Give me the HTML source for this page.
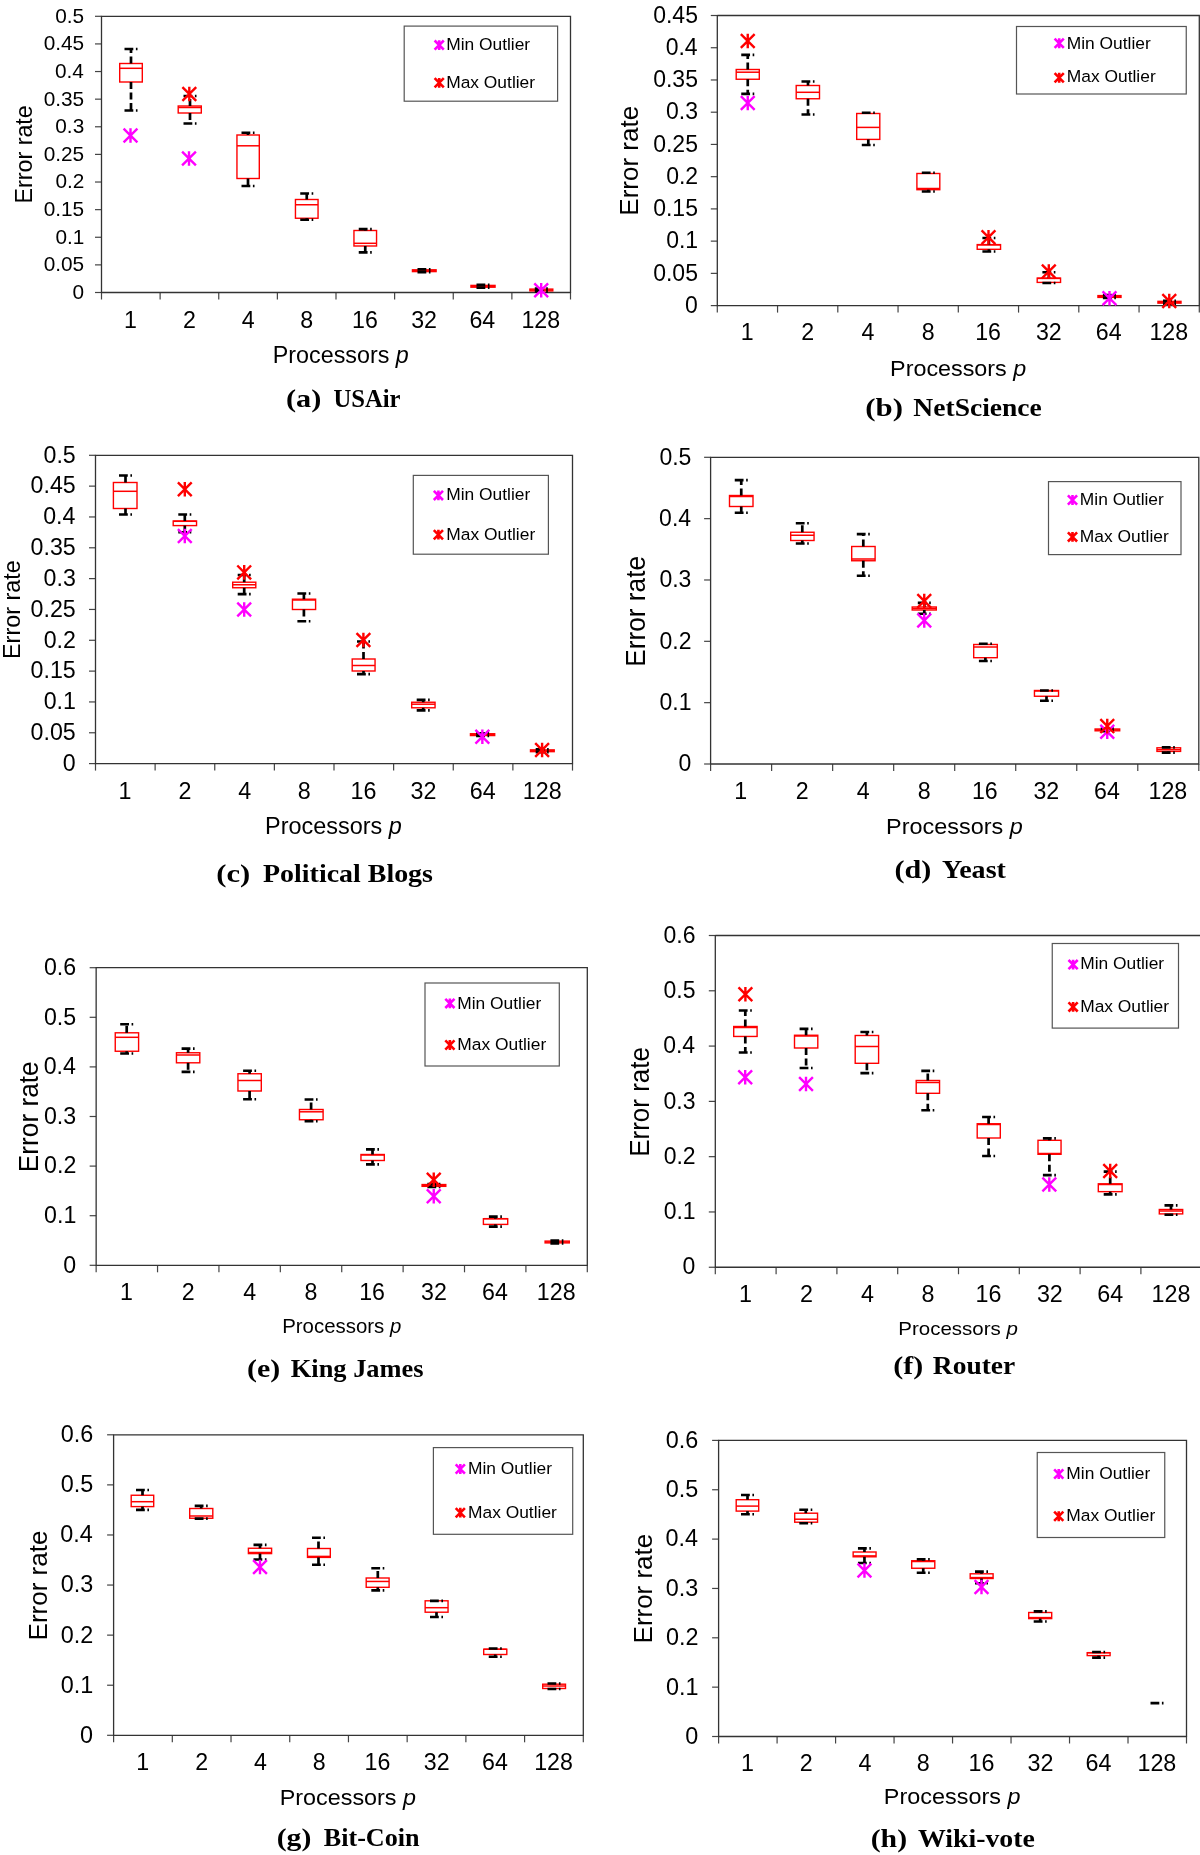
<!DOCTYPE html><html><head><meta charset="utf-8"><style>html,body{margin:0;padding:0;background:#fff;}svg{display:block;will-change:transform;}</style></head><body>
<svg width="1200" height="1855" viewBox="0 0 1200 1855" font-family='"Liberation Sans", sans-serif'>
<rect width="1200" height="1855" fill="#fff"/>
<line x1="95" y1="292.5" x2="101.5" y2="292.5" stroke="#444" stroke-width="1.2"/>
<text x="72.54" y="298.96" font-family='"Liberation Sans", sans-serif' font-size="20.8" fill="#000">0</text>
<line x1="95" y1="264.88" x2="101.5" y2="264.88" stroke="#444" stroke-width="1.2"/>
<text x="43.69" y="271.34" font-family='"Liberation Sans", sans-serif' font-size="20.8" fill="#000">0.05</text>
<line x1="95" y1="237.26" x2="101.5" y2="237.26" stroke="#444" stroke-width="1.2"/>
<text x="55.4" y="243.72" font-family='"Liberation Sans", sans-serif' font-size="20.8" fill="#000">0.1</text>
<line x1="95" y1="209.64" x2="101.5" y2="209.64" stroke="#444" stroke-width="1.2"/>
<text x="43.69" y="216.1" font-family='"Liberation Sans", sans-serif' font-size="20.8" fill="#000">0.15</text>
<line x1="95" y1="182.02" x2="101.5" y2="182.02" stroke="#444" stroke-width="1.2"/>
<text x="55.43" y="188.48" font-family='"Liberation Sans", sans-serif' font-size="20.8" fill="#000">0.2</text>
<line x1="95" y1="154.4" x2="101.5" y2="154.4" stroke="#444" stroke-width="1.2"/>
<text x="43.69" y="160.86" font-family='"Liberation Sans", sans-serif' font-size="20.8" fill="#000">0.25</text>
<line x1="95" y1="126.78" x2="101.5" y2="126.78" stroke="#444" stroke-width="1.2"/>
<text x="55.3" y="133.24" font-family='"Liberation Sans", sans-serif' font-size="20.8" fill="#000">0.3</text>
<line x1="95" y1="99.16" x2="101.5" y2="99.16" stroke="#444" stroke-width="1.2"/>
<text x="43.69" y="105.62" font-family='"Liberation Sans", sans-serif' font-size="20.8" fill="#000">0.35</text>
<line x1="95" y1="71.54" x2="101.5" y2="71.54" stroke="#444" stroke-width="1.2"/>
<text x="54.99" y="78" font-family='"Liberation Sans", sans-serif' font-size="20.8" fill="#000">0.4</text>
<line x1="95" y1="43.92" x2="101.5" y2="43.92" stroke="#444" stroke-width="1.2"/>
<text x="43.69" y="50.38" font-family='"Liberation Sans", sans-serif' font-size="20.8" fill="#000">0.45</text>
<line x1="95" y1="16.3" x2="101.5" y2="16.3" stroke="#444" stroke-width="1.2"/>
<text x="55.26" y="22.76" font-family='"Liberation Sans", sans-serif' font-size="20.8" fill="#000">0.5</text>
<line x1="101.5" y1="292.5" x2="101.5" y2="299.5" stroke="#444" stroke-width="1.2"/>
<line x1="160.12" y1="292.5" x2="160.12" y2="299.5" stroke="#444" stroke-width="1.2"/>
<line x1="218.75" y1="292.5" x2="218.75" y2="299.5" stroke="#444" stroke-width="1.2"/>
<line x1="277.38" y1="292.5" x2="277.38" y2="299.5" stroke="#444" stroke-width="1.2"/>
<line x1="336" y1="292.5" x2="336" y2="299.5" stroke="#444" stroke-width="1.2"/>
<line x1="394.62" y1="292.5" x2="394.62" y2="299.5" stroke="#444" stroke-width="1.2"/>
<line x1="453.25" y1="292.5" x2="453.25" y2="299.5" stroke="#444" stroke-width="1.2"/>
<line x1="511.88" y1="292.5" x2="511.88" y2="299.5" stroke="#444" stroke-width="1.2"/>
<line x1="570.5" y1="292.5" x2="570.5" y2="299.5" stroke="#444" stroke-width="1.2"/>
<text x="124.04" y="327.75" font-family='"Liberation Sans", sans-serif' font-size="23.2">1</text>
<text x="182.99" y="327.75" font-family='"Liberation Sans", sans-serif' font-size="23.2">2</text>
<text x="241.68" y="327.75" font-family='"Liberation Sans", sans-serif' font-size="23.2">4</text>
<text x="300.24" y="327.75" font-family='"Liberation Sans", sans-serif' font-size="23.2">8</text>
<text x="352.04" y="327.75" font-family='"Liberation Sans", sans-serif' font-size="23.2">16</text>
<text x="411.18" y="327.75" font-family='"Liberation Sans", sans-serif' font-size="23.2">32</text>
<text x="469.41" y="327.75" font-family='"Liberation Sans", sans-serif' font-size="23.2">64</text>
<text x="521.45" y="327.75" font-family='"Liberation Sans", sans-serif' font-size="23.2">128</text>
<path d="M101.5 16.3H571.1M101.5 15.7V293.1M101.5 292.5H571.1M570.5 15.7V293.1" stroke="#333" stroke-width="1.3" fill="none"/>
<g transform="translate(31.7 201.7) rotate(-90)"><text x="-1.91" y="0" font-family='"Liberation Sans", sans-serif' font-size="23.7" textLength="98.4" lengthAdjust="spacingAndGlyphs">Error rate</text></g>
<text x="272.79" y="362.7" font-family='"Liberation Sans", sans-serif' font-size="23"><tspan textLength="123" lengthAdjust="spacingAndGlyphs">Processors&#160;</tspan><tspan font-style="italic" textLength="12.96" lengthAdjust="spacingAndGlyphs">p</tspan></text>
<text x="285.97" y="407.3" font-family='"Liberation Serif", serif' font-weight="bold" font-style="normal" font-size="25" textLength="35.37" lengthAdjust="spacingAndGlyphs">(a)</text>
<text x="333.39" y="407.3" font-family='"Liberation Serif", serif' font-weight="bold" font-style="normal" font-size="25" textLength="67.14" lengthAdjust="spacingAndGlyphs">USAir</text>
<rect x="404.2" y="26.1" width="153.4" height="75.1" fill="#fff" stroke="#555" stroke-width="1.2"/>
<path d="M434.6 40.5L443.8 49.7M434.6 49.7L443.8 40.5M439.2 40.2V50" stroke="#ff00ff" stroke-width="2.6" fill="none"/>
<path d="M434.6 78.2L443.8 87.4M434.6 87.4L443.8 78.2M439.2 77.9V87.7" stroke="#ff0000" stroke-width="2.6" fill="none"/>
<text x="446.17" y="50.2" font-family='"Liberation Sans", sans-serif' font-weight="normal" font-style="normal" font-size="16.8" textLength="84.01" lengthAdjust="spacingAndGlyphs">Min Outlier</text>
<text x="446.17" y="87.8" font-family='"Liberation Sans", sans-serif' font-weight="normal" font-style="normal" font-size="16.8" textLength="88.92" lengthAdjust="spacingAndGlyphs">Max Outlier</text>
<rect x="119.7" y="63.5" width="22.6" height="18.5" fill="none" stroke="#ff0000" stroke-width="1.4"/>
<line x1="119.7" y1="68.3" x2="142.3" y2="68.3" stroke="#ff0000" stroke-width="1.5"/>
<line x1="131" y1="63.5" x2="131" y2="49" stroke="#000" stroke-width="2.7" stroke-dasharray="7 3.5"/>
<line x1="131" y1="82" x2="131" y2="110.5" stroke="#000" stroke-width="2.7" stroke-dasharray="7 3.5"/>
<line x1="124.5" y1="49" x2="137.5" y2="49" stroke="#000" stroke-width="2.7" stroke-dasharray="8.8 2.6 2.2 10"/>
<line x1="124.5" y1="110.5" x2="137.5" y2="110.5" stroke="#000" stroke-width="2.7" stroke-dasharray="8.8 2.6 2.2 10"/>
<rect x="178.2" y="106" width="23.1" height="7" fill="none" stroke="#ff0000" stroke-width="1.4"/>
<line x1="178.2" y1="107.5" x2="201.3" y2="107.5" stroke="#ff0000" stroke-width="1.5"/>
<line x1="190" y1="106" x2="190" y2="96" stroke="#000" stroke-width="2.7" stroke-dasharray="7 3.5"/>
<line x1="190" y1="113" x2="190" y2="123.5" stroke="#000" stroke-width="2.7" stroke-dasharray="7 3.5"/>
<line x1="183.5" y1="96" x2="196.5" y2="96" stroke="#000" stroke-width="2.7" stroke-dasharray="8.8 2.6 2.2 10"/>
<line x1="183.5" y1="123.5" x2="196.5" y2="123.5" stroke="#000" stroke-width="2.7" stroke-dasharray="8.8 2.6 2.2 10"/>
<rect x="236.95" y="135" width="22.35" height="43.5" fill="none" stroke="#ff0000" stroke-width="1.4"/>
<line x1="236.95" y1="145.8" x2="259.3" y2="145.8" stroke="#ff0000" stroke-width="1.5"/>
<line x1="248" y1="135" x2="248" y2="132.75" stroke="#000" stroke-width="2.7" stroke-dasharray="7 3.5"/>
<line x1="248" y1="178.5" x2="248" y2="186" stroke="#000" stroke-width="2.7" stroke-dasharray="7 3.5"/>
<line x1="241.5" y1="132.75" x2="254.5" y2="132.75" stroke="#000" stroke-width="2.7" stroke-dasharray="8.8 2.6 2.2 10"/>
<line x1="241.5" y1="186" x2="254.5" y2="186" stroke="#000" stroke-width="2.7" stroke-dasharray="8.8 2.6 2.2 10"/>
<rect x="295.45" y="199.5" width="22.6" height="18.75" fill="none" stroke="#ff0000" stroke-width="1.4"/>
<line x1="295.45" y1="204.75" x2="318.05" y2="204.75" stroke="#ff0000" stroke-width="1.5"/>
<line x1="306.75" y1="199.5" x2="306.75" y2="193.5" stroke="#000" stroke-width="2.7" stroke-dasharray="7 3.5"/>
<line x1="306.75" y1="218.25" x2="306.75" y2="219.75" stroke="#000" stroke-width="2.7" stroke-dasharray="7 3.5"/>
<line x1="300.25" y1="193.5" x2="313.25" y2="193.5" stroke="#000" stroke-width="2.7" stroke-dasharray="8.8 2.6 2.2 10"/>
<line x1="300.25" y1="219.75" x2="313.25" y2="219.75" stroke="#000" stroke-width="2.7" stroke-dasharray="8.8 2.6 2.2 10"/>
<rect x="353.95" y="230.5" width="22.6" height="15.5" fill="none" stroke="#ff0000" stroke-width="1.4"/>
<line x1="353.95" y1="243.3" x2="376.55" y2="243.3" stroke="#ff0000" stroke-width="1.5"/>
<line x1="365.25" y1="230.5" x2="365.25" y2="229.2" stroke="#000" stroke-width="2.7" stroke-dasharray="7 3.5"/>
<line x1="365.25" y1="246" x2="365.25" y2="252.3" stroke="#000" stroke-width="2.7" stroke-dasharray="7 3.5"/>
<line x1="358.75" y1="229.2" x2="371.75" y2="229.2" stroke="#000" stroke-width="2.7" stroke-dasharray="8.8 2.6 2.2 10"/>
<line x1="358.75" y1="252.3" x2="371.75" y2="252.3" stroke="#000" stroke-width="2.7" stroke-dasharray="8.8 2.6 2.2 10"/>
<rect x="412.45" y="269.8" width="23.65" height="1.8" fill="none" stroke="#ff0000" stroke-width="1.4"/>
<line x1="412.45" y1="270.7" x2="436.1" y2="270.7" stroke="#ff0000" stroke-width="1.5"/>
<line x1="417.5" y1="269.35" x2="430.5" y2="269.35" stroke="#000" stroke-width="2.7" stroke-dasharray="8.8 2.6 2.2 10"/>
<line x1="417.5" y1="272.05" x2="430.5" y2="272.05" stroke="#000" stroke-width="2.7" stroke-dasharray="8.8 2.6 2.2 10"/>
<rect x="470.95" y="285.4" width="24.1" height="1.8" fill="none" stroke="#ff0000" stroke-width="1.4"/>
<line x1="470.95" y1="286.3" x2="495.05" y2="286.3" stroke="#ff0000" stroke-width="1.5"/>
<line x1="476.5" y1="284.95" x2="489.5" y2="284.95" stroke="#000" stroke-width="2.7" stroke-dasharray="8.8 2.6 2.2 10"/>
<line x1="476.5" y1="287.65" x2="489.5" y2="287.65" stroke="#000" stroke-width="2.7" stroke-dasharray="8.8 2.6 2.2 10"/>
<rect x="529.9" y="289.1" width="22.9" height="1.8" fill="none" stroke="#ff0000" stroke-width="1.4"/>
<line x1="529.9" y1="290" x2="552.8" y2="290" stroke="#ff0000" stroke-width="1.5"/>
<line x1="534.8" y1="288.65" x2="547.8" y2="288.65" stroke="#000" stroke-width="2.7" stroke-dasharray="8.8 2.6 2.2 10"/>
<line x1="534.8" y1="291.35" x2="547.8" y2="291.35" stroke="#000" stroke-width="2.7" stroke-dasharray="8.8 2.6 2.2 10"/>
<path d="M130.5 128.2V142.8M123.6 128.6L137.4 142.4M123.6 142.4L137.4 128.6" stroke="#ff00ff" stroke-width="2.4" fill="none"/>
<path d="M189.3 86.7V101.3M182.4 87.1L196.2 100.9M182.4 100.9L196.2 87.1" stroke="#ff0000" stroke-width="2.4" fill="none"/>
<path d="M189 151.2V165.8M182.1 151.6L195.9 165.4M182.1 165.4L195.9 151.6" stroke="#ff00ff" stroke-width="2.4" fill="none"/>
<path d="M541.2 282.9V297.5M534.3 283.3L548.1 297.1M534.3 297.1L548.1 283.3" stroke="#ff00ff" stroke-width="2.4" fill="none"/>
<line x1="710.8" y1="305.6" x2="717.3" y2="305.6" stroke="#444" stroke-width="1.2"/>
<text x="685.11" y="312.84" font-family='"Liberation Sans", sans-serif' font-size="23" fill="#000">0</text>
<line x1="710.8" y1="273.37" x2="717.3" y2="273.37" stroke="#444" stroke-width="1.2"/>
<text x="653.2" y="280.61" font-family='"Liberation Sans", sans-serif' font-size="23" fill="#000">0.05</text>
<line x1="710.8" y1="241.13" x2="717.3" y2="241.13" stroke="#444" stroke-width="1.2"/>
<text x="666.15" y="248.38" font-family='"Liberation Sans", sans-serif' font-size="23" fill="#000">0.1</text>
<line x1="710.8" y1="208.9" x2="717.3" y2="208.9" stroke="#444" stroke-width="1.2"/>
<text x="653.2" y="216.14" font-family='"Liberation Sans", sans-serif' font-size="23" fill="#000">0.15</text>
<line x1="710.8" y1="176.67" x2="717.3" y2="176.67" stroke="#444" stroke-width="1.2"/>
<text x="666.18" y="183.91" font-family='"Liberation Sans", sans-serif' font-size="23" fill="#000">0.2</text>
<line x1="710.8" y1="144.43" x2="717.3" y2="144.43" stroke="#444" stroke-width="1.2"/>
<text x="653.2" y="151.68" font-family='"Liberation Sans", sans-serif' font-size="23" fill="#000">0.25</text>
<line x1="710.8" y1="112.2" x2="717.3" y2="112.2" stroke="#444" stroke-width="1.2"/>
<text x="666.04" y="119.44" font-family='"Liberation Sans", sans-serif' font-size="23" fill="#000">0.3</text>
<line x1="710.8" y1="79.97" x2="717.3" y2="79.97" stroke="#444" stroke-width="1.2"/>
<text x="653.2" y="87.21" font-family='"Liberation Sans", sans-serif' font-size="23" fill="#000">0.35</text>
<line x1="710.8" y1="47.73" x2="717.3" y2="47.73" stroke="#444" stroke-width="1.2"/>
<text x="665.7" y="54.98" font-family='"Liberation Sans", sans-serif' font-size="23" fill="#000">0.4</text>
<line x1="710.8" y1="15.5" x2="717.3" y2="15.5" stroke="#444" stroke-width="1.2"/>
<text x="653.2" y="22.74" font-family='"Liberation Sans", sans-serif' font-size="23" fill="#000">0.45</text>
<line x1="717.3" y1="305.6" x2="717.3" y2="312.6" stroke="#444" stroke-width="1.2"/>
<line x1="777.55" y1="305.6" x2="777.55" y2="312.6" stroke="#444" stroke-width="1.2"/>
<line x1="837.8" y1="305.6" x2="837.8" y2="312.6" stroke="#444" stroke-width="1.2"/>
<line x1="898.05" y1="305.6" x2="898.05" y2="312.6" stroke="#444" stroke-width="1.2"/>
<line x1="958.3" y1="305.6" x2="958.3" y2="312.6" stroke="#444" stroke-width="1.2"/>
<line x1="1018.55" y1="305.6" x2="1018.55" y2="312.6" stroke="#444" stroke-width="1.2"/>
<line x1="1078.8" y1="305.6" x2="1078.8" y2="312.6" stroke="#444" stroke-width="1.2"/>
<line x1="1139.05" y1="305.6" x2="1139.05" y2="312.6" stroke="#444" stroke-width="1.2"/>
<line x1="1199.3" y1="305.6" x2="1199.3" y2="312.6" stroke="#444" stroke-width="1.2"/>
<text x="740.66" y="340.4" font-family='"Liberation Sans", sans-serif' font-size="23.2">1</text>
<text x="801.22" y="340.4" font-family='"Liberation Sans", sans-serif' font-size="23.2">2</text>
<text x="861.55" y="340.4" font-family='"Liberation Sans", sans-serif' font-size="23.2">4</text>
<text x="921.72" y="340.4" font-family='"Liberation Sans", sans-serif' font-size="23.2">8</text>
<text x="975.15" y="340.4" font-family='"Liberation Sans", sans-serif' font-size="23.2">16</text>
<text x="1035.91" y="340.4" font-family='"Liberation Sans", sans-serif' font-size="23.2">32</text>
<text x="1095.77" y="340.4" font-family='"Liberation Sans", sans-serif' font-size="23.2">64</text>
<text x="1149.44" y="340.4" font-family='"Liberation Sans", sans-serif' font-size="23.2">128</text>
<path d="M717.3 15.5H1199.9M717.3 14.9V306.2M717.3 305.6H1199.9M1199.3 14.9V306.2" stroke="#333" stroke-width="1.3" fill="none"/>
<g transform="translate(638 213.5) rotate(-90)"><text x="-2.13" y="0" font-family='"Liberation Sans", sans-serif' font-size="26" textLength="109.79" lengthAdjust="spacingAndGlyphs">Error rate</text></g>
<text x="890.09" y="375.9" font-family='"Liberation Sans", sans-serif' font-size="22.5"><tspan textLength="123.19" lengthAdjust="spacingAndGlyphs">Processors&#160;</tspan><tspan font-style="italic" textLength="12.98" lengthAdjust="spacingAndGlyphs">p</tspan></text>
<text x="865.24" y="416.1" font-family='"Liberation Serif", serif' font-weight="bold" font-style="normal" font-size="26" textLength="37.71" lengthAdjust="spacingAndGlyphs">(b)</text>
<text x="913.38" y="416.1" font-family='"Liberation Serif", serif' font-weight="bold" font-style="normal" font-size="26" textLength="128.44" lengthAdjust="spacingAndGlyphs">NetScience</text>
<rect x="1016.5" y="26.5" width="169.75" height="67.5" fill="#fff" stroke="#555" stroke-width="1.2"/>
<path d="M1054.6 38.65L1063.8 47.85M1054.6 47.85L1063.8 38.65M1059.2 38.35V48.15" stroke="#ff00ff" stroke-width="2.6" fill="none"/>
<path d="M1054.6 73.15L1063.8 82.35M1054.6 82.35L1063.8 73.15M1059.2 72.85V82.65" stroke="#ff0000" stroke-width="2.6" fill="none"/>
<text x="1066.77" y="48.5" font-family='"Liberation Sans", sans-serif' font-weight="normal" font-style="normal" font-size="16.8" textLength="84.01" lengthAdjust="spacingAndGlyphs">Min Outlier</text>
<text x="1066.77" y="82" font-family='"Liberation Sans", sans-serif' font-weight="normal" font-style="normal" font-size="16.8" textLength="88.92" lengthAdjust="spacingAndGlyphs">Max Outlier</text>
<rect x="736.2" y="69.5" width="23.1" height="9.75" fill="none" stroke="#ff0000" stroke-width="1.4"/>
<line x1="736.2" y1="72.2" x2="759.3" y2="72.2" stroke="#ff0000" stroke-width="1.5"/>
<line x1="747.75" y1="69.5" x2="747.75" y2="54.8" stroke="#000" stroke-width="2.7" stroke-dasharray="7 3.5"/>
<line x1="747.75" y1="79.25" x2="747.75" y2="93.8" stroke="#000" stroke-width="2.7" stroke-dasharray="7 3.5"/>
<line x1="741.25" y1="54.8" x2="754.25" y2="54.8" stroke="#000" stroke-width="2.7" stroke-dasharray="8.8 2.6 2.2 10"/>
<line x1="741.25" y1="93.8" x2="754.25" y2="93.8" stroke="#000" stroke-width="2.7" stroke-dasharray="8.8 2.6 2.2 10"/>
<rect x="796.2" y="85.5" width="23.3" height="13.25" fill="none" stroke="#ff0000" stroke-width="1.4"/>
<line x1="796.2" y1="92.3" x2="819.5" y2="92.3" stroke="#ff0000" stroke-width="1.5"/>
<line x1="808" y1="85.5" x2="808" y2="81.5" stroke="#000" stroke-width="2.7" stroke-dasharray="7 3.5"/>
<line x1="808" y1="98.75" x2="808" y2="114.5" stroke="#000" stroke-width="2.7" stroke-dasharray="7 3.5"/>
<line x1="801.5" y1="81.5" x2="814.5" y2="81.5" stroke="#000" stroke-width="2.7" stroke-dasharray="8.8 2.6 2.2 10"/>
<line x1="801.5" y1="114.5" x2="814.5" y2="114.5" stroke="#000" stroke-width="2.7" stroke-dasharray="8.8 2.6 2.2 10"/>
<rect x="856.7" y="113.5" width="23.1" height="25.9" fill="none" stroke="#ff0000" stroke-width="1.4"/>
<line x1="856.7" y1="127.4" x2="879.8" y2="127.4" stroke="#ff0000" stroke-width="1.5"/>
<line x1="868.3" y1="113.5" x2="868.3" y2="112.75" stroke="#000" stroke-width="2.7" stroke-dasharray="7 3.5"/>
<line x1="868.3" y1="139.4" x2="868.3" y2="145" stroke="#000" stroke-width="2.7" stroke-dasharray="7 3.5"/>
<line x1="861.8" y1="112.75" x2="874.8" y2="112.75" stroke="#000" stroke-width="2.7" stroke-dasharray="8.8 2.6 2.2 10"/>
<line x1="861.8" y1="145" x2="874.8" y2="145" stroke="#000" stroke-width="2.7" stroke-dasharray="8.8 2.6 2.2 10"/>
<rect x="916.9" y="173.5" width="22.9" height="16.2" fill="none" stroke="#ff0000" stroke-width="1.4"/>
<line x1="916.9" y1="188.5" x2="939.8" y2="188.5" stroke="#ff0000" stroke-width="1.5"/>
<line x1="928.3" y1="173.5" x2="928.3" y2="172.75" stroke="#000" stroke-width="2.7" stroke-dasharray="7 3.5"/>
<line x1="928.3" y1="189.7" x2="928.3" y2="191.5" stroke="#000" stroke-width="2.7" stroke-dasharray="7 3.5"/>
<line x1="921.8" y1="172.75" x2="934.8" y2="172.75" stroke="#000" stroke-width="2.7" stroke-dasharray="8.8 2.6 2.2 10"/>
<line x1="921.8" y1="191.5" x2="934.8" y2="191.5" stroke="#000" stroke-width="2.7" stroke-dasharray="8.8 2.6 2.2 10"/>
<rect x="977.2" y="244.6" width="23.35" height="4.7" fill="none" stroke="#ff0000" stroke-width="1.4"/>
<line x1="977.2" y1="244.9" x2="1000.55" y2="244.9" stroke="#ff0000" stroke-width="1.5"/>
<line x1="988.9" y1="244.6" x2="988.9" y2="238" stroke="#000" stroke-width="2.7" stroke-dasharray="7 3.5"/>
<line x1="988.9" y1="249.3" x2="988.9" y2="251.5" stroke="#000" stroke-width="2.7" stroke-dasharray="7 3.5"/>
<line x1="982.4" y1="238" x2="995.4" y2="238" stroke="#000" stroke-width="2.7" stroke-dasharray="8.8 2.6 2.2 10"/>
<line x1="982.4" y1="251.5" x2="995.4" y2="251.5" stroke="#000" stroke-width="2.7" stroke-dasharray="8.8 2.6 2.2 10"/>
<rect x="1037.2" y="278.1" width="23.35" height="4.3" fill="none" stroke="#ff0000" stroke-width="1.4"/>
<line x1="1037.2" y1="278.4" x2="1060.55" y2="278.4" stroke="#ff0000" stroke-width="1.5"/>
<line x1="1048.9" y1="278.1" x2="1048.9" y2="272.25" stroke="#000" stroke-width="2.7" stroke-dasharray="7 3.5"/>
<line x1="1048.9" y1="282.4" x2="1048.9" y2="283" stroke="#000" stroke-width="2.7" stroke-dasharray="7 3.5"/>
<line x1="1042.4" y1="272.25" x2="1055.4" y2="272.25" stroke="#000" stroke-width="2.7" stroke-dasharray="8.8 2.6 2.2 10"/>
<line x1="1042.4" y1="283" x2="1055.4" y2="283" stroke="#000" stroke-width="2.7" stroke-dasharray="8.8 2.6 2.2 10"/>
<rect x="1097.95" y="295.6" width="23.05" height="1.8" fill="none" stroke="#ff0000" stroke-width="1.4"/>
<line x1="1097.95" y1="296.5" x2="1121" y2="296.5" stroke="#ff0000" stroke-width="1.5"/>
<line x1="1102.9" y1="295.15" x2="1115.9" y2="295.15" stroke="#000" stroke-width="2.7" stroke-dasharray="8.8 2.6 2.2 10"/>
<line x1="1102.9" y1="297.85" x2="1115.9" y2="297.85" stroke="#000" stroke-width="2.7" stroke-dasharray="8.8 2.6 2.2 10"/>
<rect x="1157.95" y="301.35" width="23.05" height="1.8" fill="none" stroke="#ff0000" stroke-width="1.4"/>
<line x1="1157.95" y1="302.25" x2="1181" y2="302.25" stroke="#ff0000" stroke-width="1.5"/>
<line x1="1163" y1="300.9" x2="1176" y2="300.9" stroke="#000" stroke-width="2.7" stroke-dasharray="8.8 2.6 2.2 10"/>
<line x1="1163" y1="303.6" x2="1176" y2="303.6" stroke="#000" stroke-width="2.7" stroke-dasharray="8.8 2.6 2.2 10"/>
<path d="M747.75 95.7V110.3M740.85 96.1L754.65 109.9M740.85 109.9L754.65 96.1" stroke="#ff00ff" stroke-width="2.4" fill="none"/>
<path d="M747.75 33.7V48.3M740.85 34.1L754.65 47.9M740.85 47.9L754.65 34.1" stroke="#ff0000" stroke-width="2.4" fill="none"/>
<path d="M988.5 229.95V244.55M981.6 230.35L995.4 244.15M981.6 244.15L995.4 230.35" stroke="#ff0000" stroke-width="2.4" fill="none"/>
<path d="M1048.8 264.2V278.8M1041.9 264.6L1055.7 278.4M1041.9 278.4L1055.7 264.6" stroke="#ff0000" stroke-width="2.4" fill="none"/>
<path d="M1109.5 290.9V305.5M1102.6 291.3L1116.4 305.1M1102.6 305.1L1116.4 291.3" stroke="#ff00ff" stroke-width="2.4" fill="none"/>
<path d="M1169.25 293.7V308.3M1162.35 294.1L1176.15 307.9M1162.35 307.9L1176.15 294.1" stroke="#ff0000" stroke-width="2.4" fill="none"/>
<line x1="89" y1="763.6" x2="95.5" y2="763.6" stroke="#444" stroke-width="1.2"/>
<text x="62.8" y="770.91" font-family='"Liberation Sans", sans-serif' font-size="23.2" fill="#000">0</text>
<line x1="89" y1="732.77" x2="95.5" y2="732.77" stroke="#444" stroke-width="1.2"/>
<text x="30.62" y="740.08" font-family='"Liberation Sans", sans-serif' font-size="23.2" fill="#000">0.05</text>
<line x1="89" y1="701.94" x2="95.5" y2="701.94" stroke="#444" stroke-width="1.2"/>
<text x="43.68" y="709.25" font-family='"Liberation Sans", sans-serif' font-size="23.2" fill="#000">0.1</text>
<line x1="89" y1="671.11" x2="95.5" y2="671.11" stroke="#444" stroke-width="1.2"/>
<text x="30.62" y="678.42" font-family='"Liberation Sans", sans-serif' font-size="23.2" fill="#000">0.15</text>
<line x1="89" y1="640.28" x2="95.5" y2="640.28" stroke="#444" stroke-width="1.2"/>
<text x="43.72" y="647.59" font-family='"Liberation Sans", sans-serif' font-size="23.2" fill="#000">0.2</text>
<line x1="89" y1="609.45" x2="95.5" y2="609.45" stroke="#444" stroke-width="1.2"/>
<text x="30.62" y="616.76" font-family='"Liberation Sans", sans-serif' font-size="23.2" fill="#000">0.25</text>
<line x1="89" y1="578.62" x2="95.5" y2="578.62" stroke="#444" stroke-width="1.2"/>
<text x="43.57" y="585.93" font-family='"Liberation Sans", sans-serif' font-size="23.2" fill="#000">0.3</text>
<line x1="89" y1="547.79" x2="95.5" y2="547.79" stroke="#444" stroke-width="1.2"/>
<text x="30.62" y="555.1" font-family='"Liberation Sans", sans-serif' font-size="23.2" fill="#000">0.35</text>
<line x1="89" y1="516.96" x2="95.5" y2="516.96" stroke="#444" stroke-width="1.2"/>
<text x="43.23" y="524.27" font-family='"Liberation Sans", sans-serif' font-size="23.2" fill="#000">0.4</text>
<line x1="89" y1="486.13" x2="95.5" y2="486.13" stroke="#444" stroke-width="1.2"/>
<text x="30.62" y="493.44" font-family='"Liberation Sans", sans-serif' font-size="23.2" fill="#000">0.45</text>
<line x1="89" y1="455.3" x2="95.5" y2="455.3" stroke="#444" stroke-width="1.2"/>
<text x="43.52" y="462.61" font-family='"Liberation Sans", sans-serif' font-size="23.2" fill="#000">0.5</text>
<line x1="95.5" y1="763.6" x2="95.5" y2="770.6" stroke="#444" stroke-width="1.2"/>
<line x1="155.12" y1="763.6" x2="155.12" y2="770.6" stroke="#444" stroke-width="1.2"/>
<line x1="214.75" y1="763.6" x2="214.75" y2="770.6" stroke="#444" stroke-width="1.2"/>
<line x1="274.38" y1="763.6" x2="274.38" y2="770.6" stroke="#444" stroke-width="1.2"/>
<line x1="334" y1="763.6" x2="334" y2="770.6" stroke="#444" stroke-width="1.2"/>
<line x1="393.62" y1="763.6" x2="393.62" y2="770.6" stroke="#444" stroke-width="1.2"/>
<line x1="453.25" y1="763.6" x2="453.25" y2="770.6" stroke="#444" stroke-width="1.2"/>
<line x1="512.88" y1="763.6" x2="512.88" y2="770.6" stroke="#444" stroke-width="1.2"/>
<line x1="572.5" y1="763.6" x2="572.5" y2="770.6" stroke="#444" stroke-width="1.2"/>
<text x="118.51" y="798.5" font-family='"Liberation Sans", sans-serif' font-size="23.3">1</text>
<text x="178.46" y="798.5" font-family='"Liberation Sans", sans-serif' font-size="23.3">2</text>
<text x="238.16" y="798.5" font-family='"Liberation Sans", sans-serif' font-size="23.3">4</text>
<text x="297.71" y="798.5" font-family='"Liberation Sans", sans-serif' font-size="23.3">8</text>
<text x="350.48" y="798.5" font-family='"Liberation Sans", sans-serif' font-size="23.3">16</text>
<text x="410.62" y="798.5" font-family='"Liberation Sans", sans-serif' font-size="23.3">32</text>
<text x="469.85" y="798.5" font-family='"Liberation Sans", sans-serif' font-size="23.3">64</text>
<text x="522.87" y="798.5" font-family='"Liberation Sans", sans-serif' font-size="23.3">128</text>
<path d="M95.5 455.3H573.1M95.5 454.7V764.2M95.5 763.6H573.1M572.5 454.7V764.2" stroke="#333" stroke-width="1.3" fill="none"/>
<g transform="translate(20 657.1) rotate(-90)"><text x="-1.92" y="0" font-family='"Liberation Sans", sans-serif' font-size="24.2" textLength="98.81" lengthAdjust="spacingAndGlyphs">Error rate</text></g>
<text x="265.08" y="833.75" font-family='"Liberation Sans", sans-serif' font-size="23"><tspan textLength="123.65" lengthAdjust="spacingAndGlyphs">Processors&#160;</tspan><tspan font-style="italic" textLength="13.03" lengthAdjust="spacingAndGlyphs">p</tspan></text>
<text x="216.35" y="882.3" font-family='"Liberation Serif", serif' font-weight="bold" font-style="normal" font-size="25.5" textLength="33.99" lengthAdjust="spacingAndGlyphs">(c)</text>
<text x="263.02" y="882.3" font-family='"Liberation Serif", serif' font-weight="bold" font-style="normal" font-size="25.5" textLength="169.96" lengthAdjust="spacingAndGlyphs">Political Blogs</text>
<rect x="413.3" y="475.4" width="135.1" height="78.8" fill="#fff" stroke="#555" stroke-width="1.2"/>
<path d="M433.8 490.8L443 500M433.8 500L443 490.8M438.4 490.5V500.3" stroke="#ff00ff" stroke-width="2.6" fill="none"/>
<path d="M433.8 530.1L443 539.3M433.8 539.3L443 530.1M438.4 529.8V539.6" stroke="#ff0000" stroke-width="2.6" fill="none"/>
<text x="446.27" y="500.4" font-family='"Liberation Sans", sans-serif' font-weight="normal" font-style="normal" font-size="16.8" textLength="84.01" lengthAdjust="spacingAndGlyphs">Min Outlier</text>
<text x="446.27" y="540.4" font-family='"Liberation Sans", sans-serif' font-weight="normal" font-style="normal" font-size="16.8" textLength="88.92" lengthAdjust="spacingAndGlyphs">Max Outlier</text>
<rect x="113.4" y="482.5" width="23.6" height="26" fill="none" stroke="#ff0000" stroke-width="1.4"/>
<line x1="113.4" y1="491.3" x2="137" y2="491.3" stroke="#ff0000" stroke-width="1.5"/>
<line x1="125.5" y1="482.5" x2="125.5" y2="475.5" stroke="#000" stroke-width="2.7" stroke-dasharray="7 3.5"/>
<line x1="125.5" y1="508.5" x2="125.5" y2="514.5" stroke="#000" stroke-width="2.7" stroke-dasharray="7 3.5"/>
<line x1="119" y1="475.5" x2="132" y2="475.5" stroke="#000" stroke-width="2.7" stroke-dasharray="8.8 2.6 2.2 10"/>
<line x1="119" y1="514.5" x2="132" y2="514.5" stroke="#000" stroke-width="2.7" stroke-dasharray="8.8 2.6 2.2 10"/>
<rect x="173.2" y="521" width="23.35" height="4.6" fill="none" stroke="#ff0000" stroke-width="1.4"/>
<line x1="173.2" y1="521.3" x2="196.55" y2="521.3" stroke="#ff0000" stroke-width="1.5"/>
<line x1="184.8" y1="521" x2="184.8" y2="514.5" stroke="#000" stroke-width="2.7" stroke-dasharray="7 3.5"/>
<line x1="184.8" y1="525.6" x2="184.8" y2="532.25" stroke="#000" stroke-width="2.7" stroke-dasharray="7 3.5"/>
<line x1="178.3" y1="514.5" x2="191.3" y2="514.5" stroke="#000" stroke-width="2.7" stroke-dasharray="8.8 2.6 2.2 10"/>
<line x1="178.3" y1="532.25" x2="191.3" y2="532.25" stroke="#000" stroke-width="2.7" stroke-dasharray="8.8 2.6 2.2 10"/>
<rect x="232.7" y="582.2" width="23.1" height="5.55" fill="none" stroke="#ff0000" stroke-width="1.4"/>
<line x1="232.7" y1="584.75" x2="255.8" y2="584.75" stroke="#ff0000" stroke-width="1.5"/>
<line x1="244.2" y1="582.2" x2="244.2" y2="575" stroke="#000" stroke-width="2.7" stroke-dasharray="7 3.5"/>
<line x1="244.2" y1="587.75" x2="244.2" y2="594.2" stroke="#000" stroke-width="2.7" stroke-dasharray="7 3.5"/>
<line x1="237.7" y1="575" x2="250.7" y2="575" stroke="#000" stroke-width="2.7" stroke-dasharray="8.8 2.6 2.2 10"/>
<line x1="237.7" y1="594.2" x2="250.7" y2="594.2" stroke="#000" stroke-width="2.7" stroke-dasharray="8.8 2.6 2.2 10"/>
<rect x="292.45" y="599.2" width="23.15" height="10.3" fill="none" stroke="#ff0000" stroke-width="1.4"/>
<line x1="292.45" y1="600" x2="315.6" y2="600" stroke="#ff0000" stroke-width="1.5"/>
<line x1="303.9" y1="599.2" x2="303.9" y2="593.5" stroke="#000" stroke-width="2.7" stroke-dasharray="7 3.5"/>
<line x1="303.9" y1="609.5" x2="303.9" y2="621.25" stroke="#000" stroke-width="2.7" stroke-dasharray="7 3.5"/>
<line x1="297.4" y1="593.5" x2="310.4" y2="593.5" stroke="#000" stroke-width="2.7" stroke-dasharray="8.8 2.6 2.2 10"/>
<line x1="297.4" y1="621.25" x2="310.4" y2="621.25" stroke="#000" stroke-width="2.7" stroke-dasharray="8.8 2.6 2.2 10"/>
<rect x="352.2" y="659" width="22.85" height="12" fill="none" stroke="#ff0000" stroke-width="1.4"/>
<line x1="352.2" y1="665.5" x2="375.05" y2="665.5" stroke="#ff0000" stroke-width="1.5"/>
<line x1="363.5" y1="659" x2="363.5" y2="641.5" stroke="#000" stroke-width="2.7" stroke-dasharray="7 3.5"/>
<line x1="363.5" y1="671" x2="363.5" y2="674.2" stroke="#000" stroke-width="2.7" stroke-dasharray="7 3.5"/>
<line x1="357" y1="641.5" x2="370" y2="641.5" stroke="#000" stroke-width="2.7" stroke-dasharray="8.8 2.6 2.2 10"/>
<line x1="357" y1="674.2" x2="370" y2="674.2" stroke="#000" stroke-width="2.7" stroke-dasharray="8.8 2.6 2.2 10"/>
<rect x="411.7" y="702.25" width="23.35" height="5.55" fill="none" stroke="#ff0000" stroke-width="1.4"/>
<line x1="411.7" y1="704.2" x2="435.05" y2="704.2" stroke="#ff0000" stroke-width="1.5"/>
<line x1="423.2" y1="702.25" x2="423.2" y2="699.8" stroke="#000" stroke-width="2.7" stroke-dasharray="7 3.5"/>
<line x1="423.2" y1="707.8" x2="423.2" y2="710.4" stroke="#000" stroke-width="2.7" stroke-dasharray="7 3.5"/>
<line x1="416.7" y1="699.8" x2="429.7" y2="699.8" stroke="#000" stroke-width="2.7" stroke-dasharray="8.8 2.6 2.2 10"/>
<line x1="416.7" y1="710.4" x2="429.7" y2="710.4" stroke="#000" stroke-width="2.7" stroke-dasharray="8.8 2.6 2.2 10"/>
<rect x="470.45" y="733.75" width="24.25" height="1.8" fill="none" stroke="#ff0000" stroke-width="1.4"/>
<line x1="470.45" y1="734.65" x2="494.7" y2="734.65" stroke="#ff0000" stroke-width="1.5"/>
<line x1="476.1" y1="733.3" x2="489.1" y2="733.3" stroke="#000" stroke-width="2.7" stroke-dasharray="8.8 2.6 2.2 10"/>
<line x1="476.1" y1="736" x2="489.1" y2="736" stroke="#000" stroke-width="2.7" stroke-dasharray="8.8 2.6 2.2 10"/>
<rect x="530.5" y="749.85" width="23.7" height="1.8" fill="none" stroke="#ff0000" stroke-width="1.4"/>
<line x1="530.5" y1="750.75" x2="554.2" y2="750.75" stroke="#ff0000" stroke-width="1.5"/>
<line x1="535.7" y1="749.4" x2="548.7" y2="749.4" stroke="#000" stroke-width="2.7" stroke-dasharray="8.8 2.6 2.2 10"/>
<line x1="535.7" y1="752.1" x2="548.7" y2="752.1" stroke="#000" stroke-width="2.7" stroke-dasharray="8.8 2.6 2.2 10"/>
<path d="M184.8 528.7V543.3M177.9 529.1L191.7 542.9M177.9 542.9L191.7 529.1" stroke="#ff00ff" stroke-width="2.4" fill="none"/>
<path d="M184.8 481.9V496.5M177.9 482.3L191.7 496.1M177.9 496.1L191.7 482.3" stroke="#ff0000" stroke-width="2.4" fill="none"/>
<path d="M244.2 602.2V616.8M237.3 602.6L251.1 616.4M237.3 616.4L251.1 602.6" stroke="#ff00ff" stroke-width="2.4" fill="none"/>
<path d="M244.2 565.1V579.7M237.3 565.5L251.1 579.3M237.3 579.3L251.1 565.5" stroke="#ff0000" stroke-width="2.4" fill="none"/>
<path d="M363.4 632.7V647.3M356.5 633.1L370.3 646.9M356.5 646.9L370.3 633.1" stroke="#ff0000" stroke-width="2.4" fill="none"/>
<path d="M482.35 729.45V744.05M475.45 729.85L489.25 743.65M475.45 743.65L489.25 729.85" stroke="#ff00ff" stroke-width="2.4" fill="none"/>
<path d="M542.1 742.7V757.3M535.2 743.1L549 756.9M535.2 756.9L549 743.1" stroke="#ff0000" stroke-width="2.4" fill="none"/>
<line x1="704.1" y1="764" x2="710.6" y2="764" stroke="#444" stroke-width="1.2"/>
<text x="678.51" y="771.24" font-family='"Liberation Sans", sans-serif' font-size="23" fill="#000">0</text>
<line x1="704.1" y1="702.66" x2="710.6" y2="702.66" stroke="#444" stroke-width="1.2"/>
<text x="659.55" y="709.9" font-family='"Liberation Sans", sans-serif' font-size="23" fill="#000">0.1</text>
<line x1="704.1" y1="641.32" x2="710.6" y2="641.32" stroke="#444" stroke-width="1.2"/>
<text x="659.58" y="648.56" font-family='"Liberation Sans", sans-serif' font-size="23" fill="#000">0.2</text>
<line x1="704.1" y1="579.98" x2="710.6" y2="579.98" stroke="#444" stroke-width="1.2"/>
<text x="659.44" y="587.22" font-family='"Liberation Sans", sans-serif' font-size="23" fill="#000">0.3</text>
<line x1="704.1" y1="518.64" x2="710.6" y2="518.64" stroke="#444" stroke-width="1.2"/>
<text x="659.1" y="525.88" font-family='"Liberation Sans", sans-serif' font-size="23" fill="#000">0.4</text>
<line x1="704.1" y1="457.3" x2="710.6" y2="457.3" stroke="#444" stroke-width="1.2"/>
<text x="659.39" y="464.54" font-family='"Liberation Sans", sans-serif' font-size="23" fill="#000">0.5</text>
<line x1="710.6" y1="764" x2="710.6" y2="771" stroke="#444" stroke-width="1.2"/>
<line x1="771.62" y1="764" x2="771.62" y2="771" stroke="#444" stroke-width="1.2"/>
<line x1="832.65" y1="764" x2="832.65" y2="771" stroke="#444" stroke-width="1.2"/>
<line x1="893.67" y1="764" x2="893.67" y2="771" stroke="#444" stroke-width="1.2"/>
<line x1="954.7" y1="764" x2="954.7" y2="771" stroke="#444" stroke-width="1.2"/>
<line x1="1015.72" y1="764" x2="1015.72" y2="771" stroke="#444" stroke-width="1.2"/>
<line x1="1076.75" y1="764" x2="1076.75" y2="771" stroke="#444" stroke-width="1.2"/>
<line x1="1137.78" y1="764" x2="1137.78" y2="771" stroke="#444" stroke-width="1.2"/>
<line x1="1198.8" y1="764" x2="1198.8" y2="771" stroke="#444" stroke-width="1.2"/>
<text x="734.34" y="799.3" font-family='"Liberation Sans", sans-serif' font-size="23.2">1</text>
<text x="795.69" y="799.3" font-family='"Liberation Sans", sans-serif' font-size="23.2">2</text>
<text x="856.78" y="799.3" font-family='"Liberation Sans", sans-serif' font-size="23.2">4</text>
<text x="917.74" y="799.3" font-family='"Liberation Sans", sans-serif' font-size="23.2">8</text>
<text x="971.94" y="799.3" font-family='"Liberation Sans", sans-serif' font-size="23.2">16</text>
<text x="1033.48" y="799.3" font-family='"Liberation Sans", sans-serif' font-size="23.2">32</text>
<text x="1094.11" y="799.3" font-family='"Liberation Sans", sans-serif' font-size="23.2">64</text>
<text x="1148.55" y="799.3" font-family='"Liberation Sans", sans-serif' font-size="23.2">128</text>
<path d="M710.6 457.3H1199.4M710.6 456.7V764.6M710.6 764H1199.4M1198.8 456.7V764.6" stroke="#333" stroke-width="1.3" fill="none"/>
<g transform="translate(644.6 664.6) rotate(-90)"><text x="-2.15" y="0" font-family='"Liberation Sans", sans-serif' font-size="27" textLength="110.82" lengthAdjust="spacingAndGlyphs">Error rate</text></g>
<text x="886.08" y="834.2" font-family='"Liberation Sans", sans-serif' font-size="21.8"><tspan textLength="123.65" lengthAdjust="spacingAndGlyphs">Processors&#160;</tspan><tspan font-style="italic" textLength="13.03" lengthAdjust="spacingAndGlyphs">p</tspan></text>
<text x="894.47" y="878.3" font-family='"Liberation Serif", serif' font-weight="bold" font-style="normal" font-size="25.5" textLength="36.85" lengthAdjust="spacingAndGlyphs">(d)</text>
<text x="942.03" y="878.3" font-family='"Liberation Serif", serif' font-weight="bold" font-style="normal" font-size="25.5" textLength="63.89" lengthAdjust="spacingAndGlyphs">Yeast</text>
<rect x="1048.5" y="481.6" width="132.5" height="73" fill="#fff" stroke="#555" stroke-width="1.2"/>
<path d="M1067.9 495.4L1077.1 504.6M1067.9 504.6L1077.1 495.4M1072.5 495.1V504.9" stroke="#ff00ff" stroke-width="2.6" fill="none"/>
<path d="M1067.9 532.3L1077.1 541.5M1067.9 541.5L1077.1 532.3M1072.5 532V541.8" stroke="#ff0000" stroke-width="2.6" fill="none"/>
<text x="1079.82" y="505" font-family='"Liberation Sans", sans-serif' font-weight="normal" font-style="normal" font-size="16.8" textLength="84.01" lengthAdjust="spacingAndGlyphs">Min Outlier</text>
<text x="1079.82" y="541.9" font-family='"Liberation Sans", sans-serif' font-weight="normal" font-style="normal" font-size="16.8" textLength="88.92" lengthAdjust="spacingAndGlyphs">Max Outlier</text>
<rect x="729.5" y="495.5" width="23.5" height="11" fill="none" stroke="#ff0000" stroke-width="1.4"/>
<line x1="729.5" y1="496.5" x2="753" y2="496.5" stroke="#ff0000" stroke-width="1.5"/>
<line x1="741.25" y1="495.5" x2="741.25" y2="480.2" stroke="#000" stroke-width="2.7" stroke-dasharray="7 3.5"/>
<line x1="741.25" y1="506.5" x2="741.25" y2="512.75" stroke="#000" stroke-width="2.7" stroke-dasharray="7 3.5"/>
<line x1="734.75" y1="480.2" x2="747.75" y2="480.2" stroke="#000" stroke-width="2.7" stroke-dasharray="8.8 2.6 2.2 10"/>
<line x1="734.75" y1="512.75" x2="747.75" y2="512.75" stroke="#000" stroke-width="2.7" stroke-dasharray="8.8 2.6 2.2 10"/>
<rect x="790.7" y="532.25" width="23.35" height="8.25" fill="none" stroke="#ff0000" stroke-width="1.4"/>
<line x1="790.7" y1="535.25" x2="814.05" y2="535.25" stroke="#ff0000" stroke-width="1.5"/>
<line x1="802.3" y1="532.25" x2="802.3" y2="523.25" stroke="#000" stroke-width="2.7" stroke-dasharray="7 3.5"/>
<line x1="802.3" y1="540.5" x2="802.3" y2="543.5" stroke="#000" stroke-width="2.7" stroke-dasharray="7 3.5"/>
<line x1="795.8" y1="523.25" x2="808.8" y2="523.25" stroke="#000" stroke-width="2.7" stroke-dasharray="8.8 2.6 2.2 10"/>
<line x1="795.8" y1="543.5" x2="808.8" y2="543.5" stroke="#000" stroke-width="2.7" stroke-dasharray="8.8 2.6 2.2 10"/>
<rect x="851.7" y="546.5" width="23.4" height="14.25" fill="none" stroke="#ff0000" stroke-width="1.4"/>
<line x1="851.7" y1="559" x2="875.1" y2="559" stroke="#ff0000" stroke-width="1.5"/>
<line x1="863.3" y1="546.5" x2="863.3" y2="534.2" stroke="#000" stroke-width="2.7" stroke-dasharray="7 3.5"/>
<line x1="863.3" y1="560.75" x2="863.3" y2="575.75" stroke="#000" stroke-width="2.7" stroke-dasharray="7 3.5"/>
<line x1="856.8" y1="534.2" x2="869.8" y2="534.2" stroke="#000" stroke-width="2.7" stroke-dasharray="8.8 2.6 2.2 10"/>
<line x1="856.8" y1="575.75" x2="869.8" y2="575.75" stroke="#000" stroke-width="2.7" stroke-dasharray="8.8 2.6 2.2 10"/>
<rect x="912.2" y="607" width="24.1" height="3" fill="none" stroke="#ff0000" stroke-width="1.4"/>
<line x1="912.2" y1="608.5" x2="936.3" y2="608.5" stroke="#ff0000" stroke-width="1.5"/>
<line x1="924.3" y1="607" x2="924.3" y2="602.8" stroke="#000" stroke-width="2.7" stroke-dasharray="7 3.5"/>
<line x1="924.3" y1="610" x2="924.3" y2="613.75" stroke="#000" stroke-width="2.7" stroke-dasharray="7 3.5"/>
<line x1="917.8" y1="602.8" x2="930.8" y2="602.8" stroke="#000" stroke-width="2.7" stroke-dasharray="8.8 2.6 2.2 10"/>
<line x1="917.8" y1="613.75" x2="930.8" y2="613.75" stroke="#000" stroke-width="2.7" stroke-dasharray="8.8 2.6 2.2 10"/>
<rect x="973.7" y="644.5" width="23.6" height="13.2" fill="none" stroke="#ff0000" stroke-width="1.4"/>
<line x1="973.7" y1="647" x2="997.3" y2="647" stroke="#ff0000" stroke-width="1.5"/>
<line x1="985.4" y1="644.5" x2="985.4" y2="643.75" stroke="#000" stroke-width="2.7" stroke-dasharray="7 3.5"/>
<line x1="985.4" y1="657.7" x2="985.4" y2="661" stroke="#000" stroke-width="2.7" stroke-dasharray="7 3.5"/>
<line x1="978.9" y1="643.75" x2="991.9" y2="643.75" stroke="#000" stroke-width="2.7" stroke-dasharray="8.8 2.6 2.2 10"/>
<line x1="978.9" y1="661" x2="991.9" y2="661" stroke="#000" stroke-width="2.7" stroke-dasharray="8.8 2.6 2.2 10"/>
<rect x="1034.45" y="690.5" width="24.1" height="5.75" fill="none" stroke="#ff0000" stroke-width="1.4"/>
<line x1="1034.45" y1="691" x2="1058.55" y2="691" stroke="#ff0000" stroke-width="1.5"/>
<line x1="1046.5" y1="696.25" x2="1046.5" y2="700.75" stroke="#000" stroke-width="2.7" stroke-dasharray="7 3.5"/>
<line x1="1040" y1="690.5" x2="1053" y2="690.5" stroke="#000" stroke-width="2.7" stroke-dasharray="8.8 2.6 2.2 10"/>
<line x1="1040" y1="700.75" x2="1053" y2="700.75" stroke="#000" stroke-width="2.7" stroke-dasharray="8.8 2.6 2.2 10"/>
<rect x="1095.1" y="729" width="24.6" height="1.8" fill="none" stroke="#ff0000" stroke-width="1.4"/>
<line x1="1095.1" y1="729.9" x2="1119.7" y2="729.9" stroke="#ff0000" stroke-width="1.5"/>
<line x1="1100.8" y1="728.55" x2="1113.8" y2="728.55" stroke="#000" stroke-width="2.7" stroke-dasharray="8.8 2.6 2.2 10"/>
<line x1="1100.8" y1="731.25" x2="1113.8" y2="731.25" stroke="#000" stroke-width="2.7" stroke-dasharray="8.8 2.6 2.2 10"/>
<rect x="1156.95" y="747.8" width="23.65" height="3.6" fill="none" stroke="#ff0000" stroke-width="1.4"/>
<line x1="1156.95" y1="749.7" x2="1180.6" y2="749.7" stroke="#ff0000" stroke-width="1.5"/>
<line x1="1168.3" y1="751.4" x2="1168.3" y2="752.6" stroke="#000" stroke-width="2.7" stroke-dasharray="7 3.5"/>
<line x1="1161.8" y1="747.4" x2="1174.8" y2="747.4" stroke="#000" stroke-width="2.7" stroke-dasharray="8.8 2.6 2.2 10"/>
<line x1="1161.8" y1="752.6" x2="1174.8" y2="752.6" stroke="#000" stroke-width="2.7" stroke-dasharray="8.8 2.6 2.2 10"/>
<path d="M924.25 613.2V627.8M917.35 613.6L931.15 627.4M917.35 627.4L931.15 613.6" stroke="#ff00ff" stroke-width="2.4" fill="none"/>
<path d="M924.25 593.7V608.3M917.35 594.1L931.15 607.9M917.35 607.9L931.15 594.1" stroke="#ff0000" stroke-width="2.4" fill="none"/>
<path d="M1107.25 724.4V739M1100.35 724.8L1114.15 738.6M1100.35 738.6L1114.15 724.8" stroke="#ff00ff" stroke-width="2.4" fill="none"/>
<path d="M1107.25 718.8V733.4M1100.35 719.2L1114.15 733M1100.35 733L1114.15 719.2" stroke="#ff0000" stroke-width="2.4" fill="none"/>
<line x1="89.65" y1="1265.3" x2="96.15" y2="1265.3" stroke="#444" stroke-width="1.2"/>
<text x="63.2" y="1272.61" font-family='"Liberation Sans", sans-serif' font-size="23.2" fill="#000">0</text>
<line x1="89.65" y1="1215.7" x2="96.15" y2="1215.7" stroke="#444" stroke-width="1.2"/>
<text x="44.08" y="1223.01" font-family='"Liberation Sans", sans-serif' font-size="23.2" fill="#000">0.1</text>
<line x1="89.65" y1="1166.1" x2="96.15" y2="1166.1" stroke="#444" stroke-width="1.2"/>
<text x="44.12" y="1173.41" font-family='"Liberation Sans", sans-serif' font-size="23.2" fill="#000">0.2</text>
<line x1="89.65" y1="1116.5" x2="96.15" y2="1116.5" stroke="#444" stroke-width="1.2"/>
<text x="43.97" y="1123.81" font-family='"Liberation Sans", sans-serif' font-size="23.2" fill="#000">0.3</text>
<line x1="89.65" y1="1066.9" x2="96.15" y2="1066.9" stroke="#444" stroke-width="1.2"/>
<text x="43.63" y="1074.21" font-family='"Liberation Sans", sans-serif' font-size="23.2" fill="#000">0.4</text>
<line x1="89.65" y1="1017.3" x2="96.15" y2="1017.3" stroke="#444" stroke-width="1.2"/>
<text x="43.92" y="1024.61" font-family='"Liberation Sans", sans-serif' font-size="23.2" fill="#000">0.5</text>
<line x1="89.65" y1="967.7" x2="96.15" y2="967.7" stroke="#444" stroke-width="1.2"/>
<text x="43.97" y="975.01" font-family='"Liberation Sans", sans-serif' font-size="23.2" fill="#000">0.6</text>
<line x1="96.15" y1="1265.3" x2="96.15" y2="1272.3" stroke="#444" stroke-width="1.2"/>
<line x1="157.54" y1="1265.3" x2="157.54" y2="1272.3" stroke="#444" stroke-width="1.2"/>
<line x1="218.94" y1="1265.3" x2="218.94" y2="1272.3" stroke="#444" stroke-width="1.2"/>
<line x1="280.33" y1="1265.3" x2="280.33" y2="1272.3" stroke="#444" stroke-width="1.2"/>
<line x1="341.73" y1="1265.3" x2="341.73" y2="1272.3" stroke="#444" stroke-width="1.2"/>
<line x1="403.12" y1="1265.3" x2="403.12" y2="1272.3" stroke="#444" stroke-width="1.2"/>
<line x1="464.51" y1="1265.3" x2="464.51" y2="1272.3" stroke="#444" stroke-width="1.2"/>
<line x1="525.91" y1="1265.3" x2="525.91" y2="1272.3" stroke="#444" stroke-width="1.2"/>
<line x1="587.3" y1="1265.3" x2="587.3" y2="1272.3" stroke="#444" stroke-width="1.2"/>
<text x="120.08" y="1300.2" font-family='"Liberation Sans", sans-serif' font-size="23.2">1</text>
<text x="181.79" y="1300.2" font-family='"Liberation Sans", sans-serif' font-size="23.2">2</text>
<text x="243.26" y="1300.2" font-family='"Liberation Sans", sans-serif' font-size="23.2">4</text>
<text x="304.58" y="1300.2" font-family='"Liberation Sans", sans-serif' font-size="23.2">8</text>
<text x="359.15" y="1300.2" font-family='"Liberation Sans", sans-serif' font-size="23.2">16</text>
<text x="421.05" y="1300.2" font-family='"Liberation Sans", sans-serif' font-size="23.2">32</text>
<text x="482.06" y="1300.2" font-family='"Liberation Sans", sans-serif' font-size="23.2">64</text>
<text x="536.87" y="1300.2" font-family='"Liberation Sans", sans-serif' font-size="23.2">128</text>
<path d="M96.15 967.7H587.9M96.15 967.1V1265.9M96.15 1265.3H587.9M587.3 967.1V1265.9" stroke="#333" stroke-width="1.3" fill="none"/>
<g transform="translate(37.9 1170) rotate(-90)"><text x="-2.15" y="0" font-family='"Liberation Sans", sans-serif' font-size="27" textLength="110.82" lengthAdjust="spacingAndGlyphs">Error rate</text></g>
<text x="282.23" y="1332.5" font-family='"Liberation Sans", sans-serif' font-size="19.5"><tspan textLength="107.69" lengthAdjust="spacingAndGlyphs">Processors&#160;</tspan><tspan font-style="italic" textLength="11.34" lengthAdjust="spacingAndGlyphs">p</tspan></text>
<text x="247.08" y="1376.75" font-family='"Liberation Serif", serif' font-weight="bold" font-style="normal" font-size="24.5" textLength="33.23" lengthAdjust="spacingAndGlyphs">(e)</text>
<text x="290.8" y="1376.75" font-family='"Liberation Serif", serif' font-weight="bold" font-style="normal" font-size="24.5" textLength="132.75" lengthAdjust="spacingAndGlyphs">King James</text>
<rect x="425" y="983" width="134.3" height="83" fill="#fff" stroke="#555" stroke-width="1.2"/>
<path d="M445.3 998.8L454.5 1008M445.3 1008L454.5 998.8M449.9 998.5V1008.3" stroke="#ff00ff" stroke-width="2.6" fill="none"/>
<path d="M445.3 1040.4L454.5 1049.6M445.3 1049.6L454.5 1040.4M449.9 1040.1V1049.9" stroke="#ff0000" stroke-width="2.6" fill="none"/>
<text x="457.27" y="1008.7" font-family='"Liberation Sans", sans-serif' font-weight="normal" font-style="normal" font-size="16.8" textLength="84.01" lengthAdjust="spacingAndGlyphs">Min Outlier</text>
<text x="457.27" y="1050.3" font-family='"Liberation Sans", sans-serif' font-weight="normal" font-style="normal" font-size="16.8" textLength="88.92" lengthAdjust="spacingAndGlyphs">Max Outlier</text>
<rect x="115.25" y="1032.8" width="23.35" height="18.45" fill="none" stroke="#ff0000" stroke-width="1.4"/>
<line x1="115.25" y1="1037.3" x2="138.6" y2="1037.3" stroke="#ff0000" stroke-width="1.5"/>
<line x1="126.7" y1="1032.8" x2="126.7" y2="1024.25" stroke="#000" stroke-width="2.7" stroke-dasharray="7 3.5"/>
<line x1="126.7" y1="1051.25" x2="126.7" y2="1053.5" stroke="#000" stroke-width="2.7" stroke-dasharray="7 3.5"/>
<line x1="120.2" y1="1024.25" x2="133.2" y2="1024.25" stroke="#000" stroke-width="2.7" stroke-dasharray="8.8 2.6 2.2 10"/>
<line x1="120.2" y1="1053.5" x2="133.2" y2="1053.5" stroke="#000" stroke-width="2.7" stroke-dasharray="8.8 2.6 2.2 10"/>
<rect x="176.45" y="1052.75" width="23.35" height="10.05" fill="none" stroke="#ff0000" stroke-width="1.4"/>
<line x1="176.45" y1="1055" x2="199.8" y2="1055" stroke="#ff0000" stroke-width="1.5"/>
<line x1="188.1" y1="1052.75" x2="188.1" y2="1048.7" stroke="#000" stroke-width="2.7" stroke-dasharray="7 3.5"/>
<line x1="188.1" y1="1062.8" x2="188.1" y2="1071.95" stroke="#000" stroke-width="2.7" stroke-dasharray="7 3.5"/>
<line x1="181.6" y1="1048.7" x2="194.6" y2="1048.7" stroke="#000" stroke-width="2.7" stroke-dasharray="8.8 2.6 2.2 10"/>
<line x1="181.6" y1="1071.95" x2="194.6" y2="1071.95" stroke="#000" stroke-width="2.7" stroke-dasharray="8.8 2.6 2.2 10"/>
<rect x="237.95" y="1073.75" width="23.35" height="17.25" fill="none" stroke="#ff0000" stroke-width="1.4"/>
<line x1="237.95" y1="1080.5" x2="261.3" y2="1080.5" stroke="#ff0000" stroke-width="1.5"/>
<line x1="249.6" y1="1073.75" x2="249.6" y2="1070.75" stroke="#000" stroke-width="2.7" stroke-dasharray="7 3.5"/>
<line x1="249.6" y1="1091" x2="249.6" y2="1099.25" stroke="#000" stroke-width="2.7" stroke-dasharray="7 3.5"/>
<line x1="243.1" y1="1070.75" x2="256.1" y2="1070.75" stroke="#000" stroke-width="2.7" stroke-dasharray="8.8 2.6 2.2 10"/>
<line x1="243.1" y1="1099.25" x2="256.1" y2="1099.25" stroke="#000" stroke-width="2.7" stroke-dasharray="8.8 2.6 2.2 10"/>
<rect x="299.45" y="1109.5" width="23.65" height="10.25" fill="none" stroke="#ff0000" stroke-width="1.4"/>
<line x1="299.45" y1="1111.8" x2="323.1" y2="1111.8" stroke="#ff0000" stroke-width="1.5"/>
<line x1="311.1" y1="1109.5" x2="311.1" y2="1099.5" stroke="#000" stroke-width="2.7" stroke-dasharray="7 3.5"/>
<line x1="311.1" y1="1119.75" x2="311.1" y2="1121.25" stroke="#000" stroke-width="2.7" stroke-dasharray="7 3.5"/>
<line x1="304.6" y1="1099.5" x2="317.6" y2="1099.5" stroke="#000" stroke-width="2.7" stroke-dasharray="8.8 2.6 2.2 10"/>
<line x1="304.6" y1="1121.25" x2="317.6" y2="1121.25" stroke="#000" stroke-width="2.7" stroke-dasharray="8.8 2.6 2.2 10"/>
<rect x="360.95" y="1154.5" width="23.35" height="6" fill="none" stroke="#ff0000" stroke-width="1.4"/>
<line x1="360.95" y1="1155" x2="384.3" y2="1155" stroke="#ff0000" stroke-width="1.5"/>
<line x1="372.5" y1="1154.5" x2="372.5" y2="1149.3" stroke="#000" stroke-width="2.7" stroke-dasharray="7 3.5"/>
<line x1="372.5" y1="1160.5" x2="372.5" y2="1164.3" stroke="#000" stroke-width="2.7" stroke-dasharray="7 3.5"/>
<line x1="366" y1="1149.3" x2="379" y2="1149.3" stroke="#000" stroke-width="2.7" stroke-dasharray="8.8 2.6 2.2 10"/>
<line x1="366" y1="1164.3" x2="379" y2="1164.3" stroke="#000" stroke-width="2.7" stroke-dasharray="8.8 2.6 2.2 10"/>
<rect x="422.1" y="1184.55" width="23.7" height="1.8" fill="none" stroke="#ff0000" stroke-width="1.4"/>
<line x1="422.1" y1="1185.45" x2="445.8" y2="1185.45" stroke="#ff0000" stroke-width="1.5"/>
<line x1="427.4" y1="1184.1" x2="440.4" y2="1184.1" stroke="#000" stroke-width="2.7" stroke-dasharray="8.8 2.6 2.2 10"/>
<line x1="427.4" y1="1186.8" x2="440.4" y2="1186.8" stroke="#000" stroke-width="2.7" stroke-dasharray="8.8 2.6 2.2 10"/>
<rect x="483.4" y="1218.7" width="24.3" height="5.7" fill="none" stroke="#ff0000" stroke-width="1.4"/>
<line x1="483.4" y1="1218.7" x2="507.7" y2="1218.7" stroke="#ff0000" stroke-width="1.5"/>
<line x1="495.4" y1="1218.7" x2="495.4" y2="1216.7" stroke="#000" stroke-width="2.7" stroke-dasharray="7 3.5"/>
<line x1="495.4" y1="1224.4" x2="495.4" y2="1226.7" stroke="#000" stroke-width="2.7" stroke-dasharray="7 3.5"/>
<line x1="488.9" y1="1216.7" x2="501.9" y2="1216.7" stroke="#000" stroke-width="2.7" stroke-dasharray="8.8 2.6 2.2 10"/>
<line x1="488.9" y1="1226.7" x2="501.9" y2="1226.7" stroke="#000" stroke-width="2.7" stroke-dasharray="8.8 2.6 2.2 10"/>
<rect x="545.1" y="1241.1" width="24.2" height="1.8" fill="none" stroke="#ff0000" stroke-width="1.4"/>
<line x1="545.1" y1="1242" x2="569.3" y2="1242" stroke="#ff0000" stroke-width="1.5"/>
<line x1="550.4" y1="1240.65" x2="563.4" y2="1240.65" stroke="#000" stroke-width="2.7" stroke-dasharray="8.8 2.6 2.2 10"/>
<line x1="550.4" y1="1243.35" x2="563.4" y2="1243.35" stroke="#000" stroke-width="2.7" stroke-dasharray="8.8 2.6 2.2 10"/>
<path d="M433.75 1188.95V1203.55M426.85 1189.35L440.65 1203.15M426.85 1203.15L440.65 1189.35" stroke="#ff00ff" stroke-width="2.4" fill="none"/>
<path d="M433.75 1172.45V1187.05M426.85 1172.85L440.65 1186.65M426.85 1186.65L440.65 1172.85" stroke="#ff0000" stroke-width="2.4" fill="none"/>
<line x1="708.8" y1="1267.25" x2="715.3" y2="1267.25" stroke="#444" stroke-width="1.2"/>
<text x="682.61" y="1274.49" font-family='"Liberation Sans", sans-serif' font-size="23" fill="#000">0</text>
<line x1="708.8" y1="1211.96" x2="715.3" y2="1211.96" stroke="#444" stroke-width="1.2"/>
<text x="663.65" y="1219.2" font-family='"Liberation Sans", sans-serif' font-size="23" fill="#000">0.1</text>
<line x1="708.8" y1="1156.67" x2="715.3" y2="1156.67" stroke="#444" stroke-width="1.2"/>
<text x="663.68" y="1163.91" font-family='"Liberation Sans", sans-serif' font-size="23" fill="#000">0.2</text>
<line x1="708.8" y1="1101.38" x2="715.3" y2="1101.38" stroke="#444" stroke-width="1.2"/>
<text x="663.54" y="1108.62" font-family='"Liberation Sans", sans-serif' font-size="23" fill="#000">0.3</text>
<line x1="708.8" y1="1046.08" x2="715.3" y2="1046.08" stroke="#444" stroke-width="1.2"/>
<text x="663.2" y="1053.33" font-family='"Liberation Sans", sans-serif' font-size="23" fill="#000">0.4</text>
<line x1="708.8" y1="990.79" x2="715.3" y2="990.79" stroke="#444" stroke-width="1.2"/>
<text x="663.49" y="998.03" font-family='"Liberation Sans", sans-serif' font-size="23" fill="#000">0.5</text>
<line x1="708.8" y1="935.5" x2="715.3" y2="935.5" stroke="#444" stroke-width="1.2"/>
<text x="663.54" y="942.74" font-family='"Liberation Sans", sans-serif' font-size="23" fill="#000">0.6</text>
<line x1="715.3" y1="1267.25" x2="715.3" y2="1274.25" stroke="#444" stroke-width="1.2"/>
<line x1="776.1" y1="1267.25" x2="776.1" y2="1274.25" stroke="#444" stroke-width="1.2"/>
<line x1="836.9" y1="1267.25" x2="836.9" y2="1274.25" stroke="#444" stroke-width="1.2"/>
<line x1="897.7" y1="1267.25" x2="897.7" y2="1274.25" stroke="#444" stroke-width="1.2"/>
<line x1="958.5" y1="1267.25" x2="958.5" y2="1274.25" stroke="#444" stroke-width="1.2"/>
<line x1="1019.3" y1="1267.25" x2="1019.3" y2="1274.25" stroke="#444" stroke-width="1.2"/>
<line x1="1080.1" y1="1267.25" x2="1080.1" y2="1274.25" stroke="#444" stroke-width="1.2"/>
<line x1="1140.9" y1="1267.25" x2="1140.9" y2="1274.25" stroke="#444" stroke-width="1.2"/>
<text x="738.9" y="1302.2" font-family='"Liberation Sans", sans-serif' font-size="23.3">1</text>
<text x="800.02" y="1302.2" font-family='"Liberation Sans", sans-serif' font-size="23.3">2</text>
<text x="860.89" y="1302.2" font-family='"Liberation Sans", sans-serif' font-size="23.3">4</text>
<text x="921.62" y="1302.2" font-family='"Liberation Sans", sans-serif' font-size="23.3">8</text>
<text x="975.57" y="1302.2" font-family='"Liberation Sans", sans-serif' font-size="23.3">16</text>
<text x="1036.88" y="1302.2" font-family='"Liberation Sans", sans-serif' font-size="23.3">32</text>
<text x="1097.29" y="1302.2" font-family='"Liberation Sans", sans-serif' font-size="23.3">64</text>
<text x="1151.48" y="1302.2" font-family='"Liberation Sans", sans-serif' font-size="23.3">128</text>
<path d="M715.3 935.5H1201.6M715.3 934.9V1267.85M715.3 1267.25H1201.6" stroke="#333" stroke-width="1.3" fill="none"/>
<g transform="translate(648.75 1154.6) rotate(-90)"><text x="-2.13" y="0" font-family='"Liberation Sans", sans-serif' font-size="27" textLength="109.58" lengthAdjust="spacingAndGlyphs">Error rate</text></g>
<text x="898.32" y="1334.7" font-family='"Liberation Sans", sans-serif' font-size="19"><tspan textLength="108.15" lengthAdjust="spacingAndGlyphs">Processors&#160;</tspan><tspan font-style="italic" textLength="11.39" lengthAdjust="spacingAndGlyphs">p</tspan></text>
<text x="893.38" y="1374.2" font-family='"Liberation Serif", serif' font-weight="bold" font-style="normal" font-size="24.5" textLength="29.93" lengthAdjust="spacingAndGlyphs">(f)</text>
<text x="932.83" y="1374.2" font-family='"Liberation Serif", serif' font-weight="bold" font-style="normal" font-size="24.5" textLength="82.46" lengthAdjust="spacingAndGlyphs">Router</text>
<rect x="1052.25" y="943.5" width="126.25" height="84.6" fill="#fff" stroke="#555" stroke-width="1.2"/>
<path d="M1068.5 960L1077.7 969.2M1068.5 969.2L1077.7 960M1073.1 959.7V969.5" stroke="#ff00ff" stroke-width="2.6" fill="none"/>
<path d="M1068.5 1002.3L1077.7 1011.5M1068.5 1011.5L1077.7 1002.3M1073.1 1002V1011.8" stroke="#ff0000" stroke-width="2.6" fill="none"/>
<text x="1080.17" y="969.4" font-family='"Liberation Sans", sans-serif' font-weight="normal" font-style="normal" font-size="16.8" textLength="84.01" lengthAdjust="spacingAndGlyphs">Min Outlier</text>
<text x="1080.17" y="1011.5" font-family='"Liberation Sans", sans-serif' font-weight="normal" font-style="normal" font-size="16.8" textLength="88.92" lengthAdjust="spacingAndGlyphs">Max Outlier</text>
<rect x="733.7" y="1026.5" width="23.4" height="9.95" fill="none" stroke="#ff0000" stroke-width="1.4"/>
<line x1="733.7" y1="1027.5" x2="757.1" y2="1027.5" stroke="#ff0000" stroke-width="1.5"/>
<line x1="745.3" y1="1026.5" x2="745.3" y2="1010.5" stroke="#000" stroke-width="2.7" stroke-dasharray="7 3.5"/>
<line x1="745.3" y1="1036.45" x2="745.3" y2="1052.5" stroke="#000" stroke-width="2.7" stroke-dasharray="7 3.5"/>
<line x1="738.8" y1="1010.5" x2="751.8" y2="1010.5" stroke="#000" stroke-width="2.7" stroke-dasharray="8.8 2.6 2.2 10"/>
<line x1="738.8" y1="1052.5" x2="751.8" y2="1052.5" stroke="#000" stroke-width="2.7" stroke-dasharray="8.8 2.6 2.2 10"/>
<rect x="794.5" y="1035.25" width="23.3" height="12.75" fill="none" stroke="#ff0000" stroke-width="1.4"/>
<line x1="794.5" y1="1036" x2="817.8" y2="1036" stroke="#ff0000" stroke-width="1.5"/>
<line x1="806.1" y1="1035.25" x2="806.1" y2="1028.8" stroke="#000" stroke-width="2.7" stroke-dasharray="7 3.5"/>
<line x1="806.1" y1="1048" x2="806.1" y2="1068" stroke="#000" stroke-width="2.7" stroke-dasharray="7 3.5"/>
<line x1="799.6" y1="1028.8" x2="812.6" y2="1028.8" stroke="#000" stroke-width="2.7" stroke-dasharray="8.8 2.6 2.2 10"/>
<line x1="799.6" y1="1068" x2="812.6" y2="1068" stroke="#000" stroke-width="2.7" stroke-dasharray="8.8 2.6 2.2 10"/>
<rect x="855.2" y="1035.5" width="23.4" height="27.8" fill="none" stroke="#ff0000" stroke-width="1.4"/>
<line x1="855.2" y1="1046.5" x2="878.6" y2="1046.5" stroke="#ff0000" stroke-width="1.5"/>
<line x1="866.9" y1="1035.5" x2="866.9" y2="1032" stroke="#000" stroke-width="2.7" stroke-dasharray="7 3.5"/>
<line x1="866.9" y1="1063.3" x2="866.9" y2="1073.2" stroke="#000" stroke-width="2.7" stroke-dasharray="7 3.5"/>
<line x1="860.4" y1="1032" x2="873.4" y2="1032" stroke="#000" stroke-width="2.7" stroke-dasharray="8.8 2.6 2.2 10"/>
<line x1="860.4" y1="1073.2" x2="873.4" y2="1073.2" stroke="#000" stroke-width="2.7" stroke-dasharray="8.8 2.6 2.2 10"/>
<rect x="916.2" y="1080.5" width="23.35" height="12.8" fill="none" stroke="#ff0000" stroke-width="1.4"/>
<line x1="916.2" y1="1082.5" x2="939.55" y2="1082.5" stroke="#ff0000" stroke-width="1.5"/>
<line x1="927.8" y1="1080.5" x2="927.8" y2="1070.8" stroke="#000" stroke-width="2.7" stroke-dasharray="7 3.5"/>
<line x1="927.8" y1="1093.3" x2="927.8" y2="1110.25" stroke="#000" stroke-width="2.7" stroke-dasharray="7 3.5"/>
<line x1="921.3" y1="1070.8" x2="934.3" y2="1070.8" stroke="#000" stroke-width="2.7" stroke-dasharray="8.8 2.6 2.2 10"/>
<line x1="921.3" y1="1110.25" x2="934.3" y2="1110.25" stroke="#000" stroke-width="2.7" stroke-dasharray="8.8 2.6 2.2 10"/>
<rect x="977.2" y="1123.75" width="23.1" height="14.25" fill="none" stroke="#ff0000" stroke-width="1.4"/>
<line x1="977.2" y1="1124.5" x2="1000.3" y2="1124.5" stroke="#ff0000" stroke-width="1.5"/>
<line x1="988.6" y1="1123.75" x2="988.6" y2="1117" stroke="#000" stroke-width="2.7" stroke-dasharray="7 3.5"/>
<line x1="988.6" y1="1138" x2="988.6" y2="1156" stroke="#000" stroke-width="2.7" stroke-dasharray="7 3.5"/>
<line x1="982.1" y1="1117" x2="995.1" y2="1117" stroke="#000" stroke-width="2.7" stroke-dasharray="8.8 2.6 2.2 10"/>
<line x1="982.1" y1="1156" x2="995.1" y2="1156" stroke="#000" stroke-width="2.7" stroke-dasharray="8.8 2.6 2.2 10"/>
<rect x="1038" y="1140.3" width="23.05" height="14" fill="none" stroke="#ff0000" stroke-width="1.4"/>
<line x1="1038" y1="1153.5" x2="1061.05" y2="1153.5" stroke="#ff0000" stroke-width="1.5"/>
<line x1="1049.4" y1="1140.3" x2="1049.4" y2="1138.3" stroke="#000" stroke-width="2.7" stroke-dasharray="7 3.5"/>
<line x1="1049.4" y1="1154.3" x2="1049.4" y2="1175.2" stroke="#000" stroke-width="2.7" stroke-dasharray="7 3.5"/>
<line x1="1042.9" y1="1138.3" x2="1055.9" y2="1138.3" stroke="#000" stroke-width="2.7" stroke-dasharray="8.8 2.6 2.2 10"/>
<line x1="1042.9" y1="1175.2" x2="1055.9" y2="1175.2" stroke="#000" stroke-width="2.7" stroke-dasharray="8.8 2.6 2.2 10"/>
<rect x="1098.3" y="1183.8" width="23.8" height="7.85" fill="none" stroke="#ff0000" stroke-width="1.4"/>
<line x1="1098.3" y1="1184.5" x2="1122.1" y2="1184.5" stroke="#ff0000" stroke-width="1.5"/>
<line x1="1110.2" y1="1183.8" x2="1110.2" y2="1171.6" stroke="#000" stroke-width="2.7" stroke-dasharray="7 3.5"/>
<line x1="1110.2" y1="1191.65" x2="1110.2" y2="1194.3" stroke="#000" stroke-width="2.7" stroke-dasharray="7 3.5"/>
<line x1="1103.7" y1="1171.6" x2="1116.7" y2="1171.6" stroke="#000" stroke-width="2.7" stroke-dasharray="8.8 2.6 2.2 10"/>
<line x1="1103.7" y1="1194.3" x2="1116.7" y2="1194.3" stroke="#000" stroke-width="2.7" stroke-dasharray="8.8 2.6 2.2 10"/>
<rect x="1159.3" y="1209.5" width="23.4" height="4.4" fill="none" stroke="#ff0000" stroke-width="1.4"/>
<line x1="1159.3" y1="1211" x2="1182.7" y2="1211" stroke="#ff0000" stroke-width="1.5"/>
<line x1="1171" y1="1209.5" x2="1171" y2="1205.4" stroke="#000" stroke-width="2.7" stroke-dasharray="7 3.5"/>
<line x1="1171" y1="1213.9" x2="1171" y2="1214.75" stroke="#000" stroke-width="2.7" stroke-dasharray="7 3.5"/>
<line x1="1164.5" y1="1205.4" x2="1177.5" y2="1205.4" stroke="#000" stroke-width="2.7" stroke-dasharray="8.8 2.6 2.2 10"/>
<line x1="1164.5" y1="1214.75" x2="1177.5" y2="1214.75" stroke="#000" stroke-width="2.7" stroke-dasharray="8.8 2.6 2.2 10"/>
<path d="M745.2 1069.95V1084.55M738.3 1070.35L752.1 1084.15M738.3 1084.15L752.1 1070.35" stroke="#ff00ff" stroke-width="2.4" fill="none"/>
<path d="M745.4 987V1001.6M738.5 987.4L752.3 1001.2M738.5 1001.2L752.3 987.4" stroke="#ff0000" stroke-width="2.4" fill="none"/>
<path d="M806 1076.7V1091.3M799.1 1077.1L812.9 1090.9M799.1 1090.9L812.9 1077.1" stroke="#ff00ff" stroke-width="2.4" fill="none"/>
<path d="M1049.3 1177.2V1191.8M1042.4 1177.6L1056.2 1191.4M1042.4 1191.4L1056.2 1177.6" stroke="#ff00ff" stroke-width="2.4" fill="none"/>
<path d="M1110.2 1163.7V1178.3M1103.3 1164.1L1117.1 1177.9M1103.3 1177.9L1117.1 1164.1" stroke="#ff0000" stroke-width="2.4" fill="none"/>
<line x1="107.1" y1="1735.3" x2="113.6" y2="1735.3" stroke="#444" stroke-width="1.2"/>
<text x="80.1" y="1742.68" font-family='"Liberation Sans", sans-serif' font-size="23.4" fill="#000">0</text>
<line x1="107.1" y1="1685.22" x2="113.6" y2="1685.22" stroke="#444" stroke-width="1.2"/>
<text x="60.81" y="1692.6" font-family='"Liberation Sans", sans-serif' font-size="23.4" fill="#000">0.1</text>
<line x1="107.1" y1="1635.13" x2="113.6" y2="1635.13" stroke="#444" stroke-width="1.2"/>
<text x="60.85" y="1642.52" font-family='"Liberation Sans", sans-serif' font-size="23.4" fill="#000">0.2</text>
<line x1="107.1" y1="1585.05" x2="113.6" y2="1585.05" stroke="#444" stroke-width="1.2"/>
<text x="60.7" y="1592.43" font-family='"Liberation Sans", sans-serif' font-size="23.4" fill="#000">0.3</text>
<line x1="107.1" y1="1534.97" x2="113.6" y2="1534.97" stroke="#444" stroke-width="1.2"/>
<text x="60.36" y="1542.35" font-family='"Liberation Sans", sans-serif' font-size="23.4" fill="#000">0.4</text>
<line x1="107.1" y1="1484.88" x2="113.6" y2="1484.88" stroke="#444" stroke-width="1.2"/>
<text x="60.65" y="1492.27" font-family='"Liberation Sans", sans-serif' font-size="23.4" fill="#000">0.5</text>
<line x1="107.1" y1="1434.8" x2="113.6" y2="1434.8" stroke="#444" stroke-width="1.2"/>
<text x="60.7" y="1442.18" font-family='"Liberation Sans", sans-serif' font-size="23.4" fill="#000">0.6</text>
<line x1="113.6" y1="1735.3" x2="113.6" y2="1742.3" stroke="#444" stroke-width="1.2"/>
<line x1="172.31" y1="1735.3" x2="172.31" y2="1742.3" stroke="#444" stroke-width="1.2"/>
<line x1="231.02" y1="1735.3" x2="231.02" y2="1742.3" stroke="#444" stroke-width="1.2"/>
<line x1="289.74" y1="1735.3" x2="289.74" y2="1742.3" stroke="#444" stroke-width="1.2"/>
<line x1="348.45" y1="1735.3" x2="348.45" y2="1742.3" stroke="#444" stroke-width="1.2"/>
<line x1="407.16" y1="1735.3" x2="407.16" y2="1742.3" stroke="#444" stroke-width="1.2"/>
<line x1="465.88" y1="1735.3" x2="465.88" y2="1742.3" stroke="#444" stroke-width="1.2"/>
<line x1="524.59" y1="1735.3" x2="524.59" y2="1742.3" stroke="#444" stroke-width="1.2"/>
<line x1="583.3" y1="1735.3" x2="583.3" y2="1742.3" stroke="#444" stroke-width="1.2"/>
<text x="136.19" y="1770.3" font-family='"Liberation Sans", sans-serif' font-size="23.2">1</text>
<text x="195.22" y="1770.3" font-family='"Liberation Sans", sans-serif' font-size="23.2">2</text>
<text x="254" y="1770.3" font-family='"Liberation Sans", sans-serif' font-size="23.2">4</text>
<text x="312.64" y="1770.3" font-family='"Liberation Sans", sans-serif' font-size="23.2">8</text>
<text x="364.53" y="1770.3" font-family='"Liberation Sans", sans-serif' font-size="23.2">16</text>
<text x="423.76" y="1770.3" font-family='"Liberation Sans", sans-serif' font-size="23.2">32</text>
<text x="482.08" y="1770.3" font-family='"Liberation Sans", sans-serif' font-size="23.2">64</text>
<text x="534.21" y="1770.3" font-family='"Liberation Sans", sans-serif' font-size="23.2">128</text>
<path d="M113.6 1434.8H583.9M113.6 1434.2V1735.9M113.6 1735.3H583.9M583.3 1434.2V1735.9" stroke="#333" stroke-width="1.3" fill="none"/>
<g transform="translate(46.7 1638.3) rotate(-90)"><text x="-2.13" y="0" font-family='"Liberation Sans", sans-serif' font-size="26.7" textLength="109.89" lengthAdjust="spacingAndGlyphs">Error rate</text></g>
<text x="279.78" y="1804.7" font-family='"Liberation Sans", sans-serif' font-size="22.5"><tspan textLength="123.28" lengthAdjust="spacingAndGlyphs">Processors&#160;</tspan><tspan font-style="italic" textLength="12.99" lengthAdjust="spacingAndGlyphs">p</tspan></text>
<text x="276.7" y="1846.3" font-family='"Liberation Serif", serif' font-weight="bold" font-style="normal" font-size="25" textLength="34.61" lengthAdjust="spacingAndGlyphs">(g)</text>
<text x="323.77" y="1846.3" font-family='"Liberation Serif", serif' font-weight="bold" font-style="normal" font-size="25" textLength="95.83" lengthAdjust="spacingAndGlyphs">Bit-Coin</text>
<rect x="433.4" y="1447.6" width="139.3" height="86.7" fill="#fff" stroke="#555" stroke-width="1.2"/>
<path d="M455.7 1464.4L464.9 1473.6M455.7 1473.6L464.9 1464.4M460.3 1464.1V1473.9" stroke="#ff00ff" stroke-width="2.6" fill="none"/>
<path d="M455.7 1508.1L464.9 1517.3M455.7 1517.3L464.9 1508.1M460.3 1507.8V1517.6" stroke="#ff0000" stroke-width="2.6" fill="none"/>
<text x="467.97" y="1474.4" font-family='"Liberation Sans", sans-serif' font-weight="normal" font-style="normal" font-size="16.8" textLength="84.01" lengthAdjust="spacingAndGlyphs">Min Outlier</text>
<text x="467.97" y="1518" font-family='"Liberation Sans", sans-serif' font-weight="normal" font-style="normal" font-size="16.8" textLength="88.92" lengthAdjust="spacingAndGlyphs">Max Outlier</text>
<rect x="131.2" y="1495.25" width="22.5" height="11.35" fill="none" stroke="#ff0000" stroke-width="1.4"/>
<line x1="131.2" y1="1501.7" x2="153.7" y2="1501.7" stroke="#ff0000" stroke-width="1.5"/>
<line x1="142.5" y1="1495.25" x2="142.5" y2="1490" stroke="#000" stroke-width="2.7" stroke-dasharray="7 3.5"/>
<line x1="142.5" y1="1506.6" x2="142.5" y2="1509.8" stroke="#000" stroke-width="2.7" stroke-dasharray="7 3.5"/>
<line x1="136" y1="1490" x2="149" y2="1490" stroke="#000" stroke-width="2.7" stroke-dasharray="8.8 2.6 2.2 10"/>
<line x1="136" y1="1509.8" x2="149" y2="1509.8" stroke="#000" stroke-width="2.7" stroke-dasharray="8.8 2.6 2.2 10"/>
<rect x="189.7" y="1508.5" width="23.1" height="9.75" fill="none" stroke="#ff0000" stroke-width="1.4"/>
<line x1="189.7" y1="1516" x2="212.8" y2="1516" stroke="#ff0000" stroke-width="1.5"/>
<line x1="201.2" y1="1508.5" x2="201.2" y2="1505.8" stroke="#000" stroke-width="2.7" stroke-dasharray="7 3.5"/>
<line x1="194.7" y1="1505.8" x2="207.7" y2="1505.8" stroke="#000" stroke-width="2.7" stroke-dasharray="8.8 2.6 2.2 10"/>
<line x1="194.7" y1="1518.7" x2="207.7" y2="1518.7" stroke="#000" stroke-width="2.7" stroke-dasharray="8.8 2.6 2.2 10"/>
<rect x="248.4" y="1548.25" width="23.2" height="5.35" fill="none" stroke="#ff0000" stroke-width="1.4"/>
<line x1="248.4" y1="1552.5" x2="271.6" y2="1552.5" stroke="#ff0000" stroke-width="1.5"/>
<line x1="260" y1="1548.25" x2="260" y2="1544.8" stroke="#000" stroke-width="2.7" stroke-dasharray="7 3.5"/>
<line x1="260" y1="1553.6" x2="260" y2="1559.5" stroke="#000" stroke-width="2.7" stroke-dasharray="7 3.5"/>
<line x1="253.5" y1="1544.8" x2="266.5" y2="1544.8" stroke="#000" stroke-width="2.7" stroke-dasharray="8.8 2.6 2.2 10"/>
<line x1="253.5" y1="1559.5" x2="266.5" y2="1559.5" stroke="#000" stroke-width="2.7" stroke-dasharray="8.8 2.6 2.2 10"/>
<rect x="307.5" y="1548.5" width="22.8" height="8.9" fill="none" stroke="#ff0000" stroke-width="1.4"/>
<line x1="307.5" y1="1556.4" x2="330.3" y2="1556.4" stroke="#ff0000" stroke-width="1.5"/>
<line x1="318.5" y1="1548.5" x2="318.5" y2="1537.75" stroke="#000" stroke-width="2.7" stroke-dasharray="7 3.5"/>
<line x1="318.5" y1="1557.4" x2="318.5" y2="1564.75" stroke="#000" stroke-width="2.7" stroke-dasharray="7 3.5"/>
<line x1="312" y1="1537.75" x2="325" y2="1537.75" stroke="#000" stroke-width="2.7" stroke-dasharray="8.8 2.6 2.2 10"/>
<line x1="312" y1="1564.75" x2="325" y2="1564.75" stroke="#000" stroke-width="2.7" stroke-dasharray="8.8 2.6 2.2 10"/>
<rect x="366.2" y="1578" width="22.9" height="9.3" fill="none" stroke="#ff0000" stroke-width="1.4"/>
<line x1="366.2" y1="1581.45" x2="389.1" y2="1581.45" stroke="#ff0000" stroke-width="1.5"/>
<line x1="377.8" y1="1578" x2="377.8" y2="1568.25" stroke="#000" stroke-width="2.7" stroke-dasharray="7 3.5"/>
<line x1="377.8" y1="1587.3" x2="377.8" y2="1590.45" stroke="#000" stroke-width="2.7" stroke-dasharray="7 3.5"/>
<line x1="371.3" y1="1568.25" x2="384.3" y2="1568.25" stroke="#000" stroke-width="2.7" stroke-dasharray="8.8 2.6 2.2 10"/>
<line x1="371.3" y1="1590.45" x2="384.3" y2="1590.45" stroke="#000" stroke-width="2.7" stroke-dasharray="8.8 2.6 2.2 10"/>
<rect x="425.15" y="1600.8" width="22.9" height="11.4" fill="none" stroke="#ff0000" stroke-width="1.4"/>
<line x1="425.15" y1="1607.7" x2="448.05" y2="1607.7" stroke="#ff0000" stroke-width="1.5"/>
<line x1="436.5" y1="1612.2" x2="436.5" y2="1617" stroke="#000" stroke-width="2.7" stroke-dasharray="7 3.5"/>
<line x1="430" y1="1600.8" x2="443" y2="1600.8" stroke="#000" stroke-width="2.7" stroke-dasharray="8.8 2.6 2.2 10"/>
<line x1="430" y1="1617" x2="443" y2="1617" stroke="#000" stroke-width="2.7" stroke-dasharray="8.8 2.6 2.2 10"/>
<rect x="483.7" y="1649.25" width="23.1" height="5.25" fill="none" stroke="#ff0000" stroke-width="1.4"/>
<line x1="483.7" y1="1649.25" x2="506.8" y2="1649.25" stroke="#ff0000" stroke-width="1.5"/>
<line x1="495.25" y1="1649.25" x2="495.25" y2="1648.5" stroke="#000" stroke-width="2.7" stroke-dasharray="7 3.5"/>
<line x1="495.25" y1="1654.5" x2="495.25" y2="1656.75" stroke="#000" stroke-width="2.7" stroke-dasharray="7 3.5"/>
<line x1="488.75" y1="1648.5" x2="501.75" y2="1648.5" stroke="#000" stroke-width="2.7" stroke-dasharray="8.8 2.6 2.2 10"/>
<line x1="488.75" y1="1656.75" x2="501.75" y2="1656.75" stroke="#000" stroke-width="2.7" stroke-dasharray="8.8 2.6 2.2 10"/>
<rect x="542.7" y="1684.2" width="22.8" height="4.3" fill="none" stroke="#ff0000" stroke-width="1.4"/>
<line x1="542.7" y1="1686" x2="565.5" y2="1686" stroke="#ff0000" stroke-width="1.5"/>
<line x1="554" y1="1684.2" x2="554" y2="1683.5" stroke="#000" stroke-width="2.7" stroke-dasharray="7 3.5"/>
<line x1="547.5" y1="1683.5" x2="560.5" y2="1683.5" stroke="#000" stroke-width="2.7" stroke-dasharray="8.8 2.6 2.2 10"/>
<line x1="547.5" y1="1689" x2="560.5" y2="1689" stroke="#000" stroke-width="2.7" stroke-dasharray="8.8 2.6 2.2 10"/>
<path d="M260 1559.7V1574.3M253.1 1560.1L266.9 1573.9M253.1 1573.9L266.9 1560.1" stroke="#ff00ff" stroke-width="2.4" fill="none"/>
<line x1="712.1" y1="1736.5" x2="718.6" y2="1736.5" stroke="#444" stroke-width="1.2"/>
<text x="685.2" y="1743.88" font-family='"Liberation Sans", sans-serif' font-size="23.4" fill="#000">0</text>
<line x1="712.1" y1="1687.15" x2="718.6" y2="1687.15" stroke="#444" stroke-width="1.2"/>
<text x="665.91" y="1694.53" font-family='"Liberation Sans", sans-serif' font-size="23.4" fill="#000">0.1</text>
<line x1="712.1" y1="1637.8" x2="718.6" y2="1637.8" stroke="#444" stroke-width="1.2"/>
<text x="665.95" y="1645.18" font-family='"Liberation Sans", sans-serif' font-size="23.4" fill="#000">0.2</text>
<line x1="712.1" y1="1588.45" x2="718.6" y2="1588.45" stroke="#444" stroke-width="1.2"/>
<text x="665.8" y="1595.83" font-family='"Liberation Sans", sans-serif' font-size="23.4" fill="#000">0.3</text>
<line x1="712.1" y1="1539.1" x2="718.6" y2="1539.1" stroke="#444" stroke-width="1.2"/>
<text x="665.46" y="1546.48" font-family='"Liberation Sans", sans-serif' font-size="23.4" fill="#000">0.4</text>
<line x1="712.1" y1="1489.75" x2="718.6" y2="1489.75" stroke="#444" stroke-width="1.2"/>
<text x="665.75" y="1497.13" font-family='"Liberation Sans", sans-serif' font-size="23.4" fill="#000">0.5</text>
<line x1="712.1" y1="1440.4" x2="718.6" y2="1440.4" stroke="#444" stroke-width="1.2"/>
<text x="665.8" y="1447.78" font-family='"Liberation Sans", sans-serif' font-size="23.4" fill="#000">0.6</text>
<line x1="718.6" y1="1736.5" x2="718.6" y2="1743.5" stroke="#444" stroke-width="1.2"/>
<line x1="777.09" y1="1736.5" x2="777.09" y2="1743.5" stroke="#444" stroke-width="1.2"/>
<line x1="835.58" y1="1736.5" x2="835.58" y2="1743.5" stroke="#444" stroke-width="1.2"/>
<line x1="894.06" y1="1736.5" x2="894.06" y2="1743.5" stroke="#444" stroke-width="1.2"/>
<line x1="952.55" y1="1736.5" x2="952.55" y2="1743.5" stroke="#444" stroke-width="1.2"/>
<line x1="1011.04" y1="1736.5" x2="1011.04" y2="1743.5" stroke="#444" stroke-width="1.2"/>
<line x1="1069.53" y1="1736.5" x2="1069.53" y2="1743.5" stroke="#444" stroke-width="1.2"/>
<line x1="1128.01" y1="1736.5" x2="1128.01" y2="1743.5" stroke="#444" stroke-width="1.2"/>
<line x1="1186.5" y1="1736.5" x2="1186.5" y2="1743.5" stroke="#444" stroke-width="1.2"/>
<text x="741.05" y="1771" font-family='"Liberation Sans", sans-serif' font-size="23.3">1</text>
<text x="799.85" y="1771" font-family='"Liberation Sans", sans-serif' font-size="23.3">2</text>
<text x="858.41" y="1771" font-family='"Liberation Sans", sans-serif' font-size="23.3">4</text>
<text x="916.83" y="1771" font-family='"Liberation Sans", sans-serif' font-size="23.3">8</text>
<text x="968.46" y="1771" font-family='"Liberation Sans", sans-serif' font-size="23.3">16</text>
<text x="1027.47" y="1771" font-family='"Liberation Sans", sans-serif' font-size="23.3">32</text>
<text x="1085.56" y="1771" font-family='"Liberation Sans", sans-serif' font-size="23.3">64</text>
<text x="1137.44" y="1771" font-family='"Liberation Sans", sans-serif' font-size="23.3">128</text>
<path d="M718.6 1440.4H1187.1M718.6 1439.8V1737.1M718.6 1736.5H1187.1M1186.5 1439.8V1737.1" stroke="#333" stroke-width="1.3" fill="none"/>
<g transform="translate(651.7 1641.25) rotate(-90)"><text x="-2.13" y="0" font-family='"Liberation Sans", sans-serif' font-size="26.7" textLength="109.53" lengthAdjust="spacingAndGlyphs">Error rate</text></g>
<text x="883.88" y="1804.2" font-family='"Liberation Sans", sans-serif' font-size="22"><tspan textLength="123.56" lengthAdjust="spacingAndGlyphs">Processors&#160;</tspan><tspan font-style="italic" textLength="13.02" lengthAdjust="spacingAndGlyphs">p</tspan></text>
<text x="870.69" y="1846.7" font-family='"Liberation Serif", serif' font-weight="bold" font-style="normal" font-size="24.5" textLength="36.42" lengthAdjust="spacingAndGlyphs">(h)</text>
<text x="917.91" y="1846.7" font-family='"Liberation Serif", serif' font-weight="bold" font-style="normal" font-size="24.5" textLength="117.01" lengthAdjust="spacingAndGlyphs">Wiki-vote</text>
<rect x="1037.25" y="1452.5" width="127.5" height="85" fill="#fff" stroke="#555" stroke-width="1.2"/>
<path d="M1054.15 1469.4L1063.35 1478.6M1054.15 1478.6L1063.35 1469.4M1058.75 1469.1V1478.9" stroke="#ff00ff" stroke-width="2.6" fill="none"/>
<path d="M1054.15 1511.65L1063.35 1520.85M1054.15 1520.85L1063.35 1511.65M1058.75 1511.35V1521.15" stroke="#ff0000" stroke-width="2.6" fill="none"/>
<text x="1066.32" y="1478.75" font-family='"Liberation Sans", sans-serif' font-weight="normal" font-style="normal" font-size="16.8" textLength="84.01" lengthAdjust="spacingAndGlyphs">Min Outlier</text>
<text x="1066.32" y="1521.25" font-family='"Liberation Sans", sans-serif' font-weight="normal" font-style="normal" font-size="16.8" textLength="88.92" lengthAdjust="spacingAndGlyphs">Max Outlier</text>
<rect x="736.2" y="1499.7" width="22.5" height="11.4" fill="none" stroke="#ff0000" stroke-width="1.4"/>
<line x1="736.2" y1="1506.1" x2="758.7" y2="1506.1" stroke="#ff0000" stroke-width="1.5"/>
<line x1="747.5" y1="1499.7" x2="747.5" y2="1495" stroke="#000" stroke-width="2.7" stroke-dasharray="7 3.5"/>
<line x1="747.5" y1="1511.1" x2="747.5" y2="1514.25" stroke="#000" stroke-width="2.7" stroke-dasharray="7 3.5"/>
<line x1="741" y1="1495" x2="754" y2="1495" stroke="#000" stroke-width="2.7" stroke-dasharray="8.8 2.6 2.2 10"/>
<line x1="741" y1="1514.25" x2="754" y2="1514.25" stroke="#000" stroke-width="2.7" stroke-dasharray="8.8 2.6 2.2 10"/>
<rect x="794.7" y="1513.2" width="22.85" height="9" fill="none" stroke="#ff0000" stroke-width="1.4"/>
<line x1="794.7" y1="1519.2" x2="817.55" y2="1519.2" stroke="#ff0000" stroke-width="1.5"/>
<line x1="805.8" y1="1513.2" x2="805.8" y2="1509.75" stroke="#000" stroke-width="2.7" stroke-dasharray="7 3.5"/>
<line x1="805.8" y1="1522.2" x2="805.8" y2="1523.25" stroke="#000" stroke-width="2.7" stroke-dasharray="7 3.5"/>
<line x1="799.3" y1="1509.75" x2="812.3" y2="1509.75" stroke="#000" stroke-width="2.7" stroke-dasharray="8.8 2.6 2.2 10"/>
<line x1="799.3" y1="1523.25" x2="812.3" y2="1523.25" stroke="#000" stroke-width="2.7" stroke-dasharray="8.8 2.6 2.2 10"/>
<rect x="853.15" y="1552" width="22.9" height="4.8" fill="none" stroke="#ff0000" stroke-width="1.4"/>
<line x1="853.15" y1="1555.9" x2="876.05" y2="1555.9" stroke="#ff0000" stroke-width="1.5"/>
<line x1="864.45" y1="1552" x2="864.45" y2="1548.3" stroke="#000" stroke-width="2.7" stroke-dasharray="7 3.5"/>
<line x1="864.45" y1="1556.8" x2="864.45" y2="1563" stroke="#000" stroke-width="2.7" stroke-dasharray="7 3.5"/>
<line x1="857.95" y1="1548.3" x2="870.95" y2="1548.3" stroke="#000" stroke-width="2.7" stroke-dasharray="8.8 2.6 2.2 10"/>
<line x1="857.95" y1="1563" x2="870.95" y2="1563" stroke="#000" stroke-width="2.7" stroke-dasharray="8.8 2.6 2.2 10"/>
<rect x="911.7" y="1560.75" width="23.1" height="7.5" fill="none" stroke="#ff0000" stroke-width="1.4"/>
<line x1="911.7" y1="1561.5" x2="934.8" y2="1561.5" stroke="#ff0000" stroke-width="1.5"/>
<line x1="923.25" y1="1560.75" x2="923.25" y2="1559.25" stroke="#000" stroke-width="2.7" stroke-dasharray="7 3.5"/>
<line x1="923.25" y1="1568.25" x2="923.25" y2="1572.75" stroke="#000" stroke-width="2.7" stroke-dasharray="7 3.5"/>
<line x1="916.75" y1="1559.25" x2="929.75" y2="1559.25" stroke="#000" stroke-width="2.7" stroke-dasharray="8.8 2.6 2.2 10"/>
<line x1="916.75" y1="1572.75" x2="929.75" y2="1572.75" stroke="#000" stroke-width="2.7" stroke-dasharray="8.8 2.6 2.2 10"/>
<rect x="970.2" y="1573.8" width="22.9" height="4.7" fill="none" stroke="#ff0000" stroke-width="1.4"/>
<line x1="970.2" y1="1577.6" x2="993.1" y2="1577.6" stroke="#ff0000" stroke-width="1.5"/>
<line x1="981.5" y1="1573.8" x2="981.5" y2="1571.7" stroke="#000" stroke-width="2.7" stroke-dasharray="7 3.5"/>
<line x1="981.5" y1="1578.5" x2="981.5" y2="1583.25" stroke="#000" stroke-width="2.7" stroke-dasharray="7 3.5"/>
<line x1="975" y1="1571.7" x2="988" y2="1571.7" stroke="#000" stroke-width="2.7" stroke-dasharray="8.8 2.6 2.2 10"/>
<line x1="975" y1="1583.25" x2="988" y2="1583.25" stroke="#000" stroke-width="2.7" stroke-dasharray="8.8 2.6 2.2 10"/>
<rect x="1028.7" y="1612.5" width="23" height="6.1" fill="none" stroke="#ff0000" stroke-width="1.4"/>
<line x1="1028.7" y1="1617.6" x2="1051.7" y2="1617.6" stroke="#ff0000" stroke-width="1.5"/>
<line x1="1040.2" y1="1612.5" x2="1040.2" y2="1611.3" stroke="#000" stroke-width="2.7" stroke-dasharray="7 3.5"/>
<line x1="1040.2" y1="1618.6" x2="1040.2" y2="1621.5" stroke="#000" stroke-width="2.7" stroke-dasharray="7 3.5"/>
<line x1="1033.7" y1="1611.3" x2="1046.7" y2="1611.3" stroke="#000" stroke-width="2.7" stroke-dasharray="8.8 2.6 2.2 10"/>
<line x1="1033.7" y1="1621.5" x2="1046.7" y2="1621.5" stroke="#000" stroke-width="2.7" stroke-dasharray="8.8 2.6 2.2 10"/>
<rect x="1087.2" y="1652.7" width="22.9" height="2.9" fill="none" stroke="#ff0000" stroke-width="1.4"/>
<line x1="1087.2" y1="1652.7" x2="1110.1" y2="1652.7" stroke="#ff0000" stroke-width="1.5"/>
<line x1="1098.6" y1="1652.7" x2="1098.6" y2="1652" stroke="#000" stroke-width="2.7" stroke-dasharray="7 3.5"/>
<line x1="1098.6" y1="1655.6" x2="1098.6" y2="1657.7" stroke="#000" stroke-width="2.7" stroke-dasharray="7 3.5"/>
<line x1="1092.1" y1="1652" x2="1105.1" y2="1652" stroke="#000" stroke-width="2.7" stroke-dasharray="8.8 2.6 2.2 10"/>
<line x1="1092.1" y1="1657.7" x2="1105.1" y2="1657.7" stroke="#000" stroke-width="2.7" stroke-dasharray="8.8 2.6 2.2 10"/>
<line x1="1150.5" y1="1703.2" x2="1163.5" y2="1703.2" stroke="#000" stroke-width="2.7" stroke-dasharray="8.8 2.6 2.2 10"/>
<path d="M864.45 1563.2V1577.8M857.55 1563.6L871.35 1577.4M857.55 1577.4L871.35 1563.6" stroke="#ff00ff" stroke-width="2.4" fill="none"/>
<path d="M981.5 1579.7V1594.3M974.6 1580.1L988.4 1593.9M974.6 1593.9L988.4 1580.1" stroke="#ff00ff" stroke-width="2.4" fill="none"/>
</svg></body></html>
